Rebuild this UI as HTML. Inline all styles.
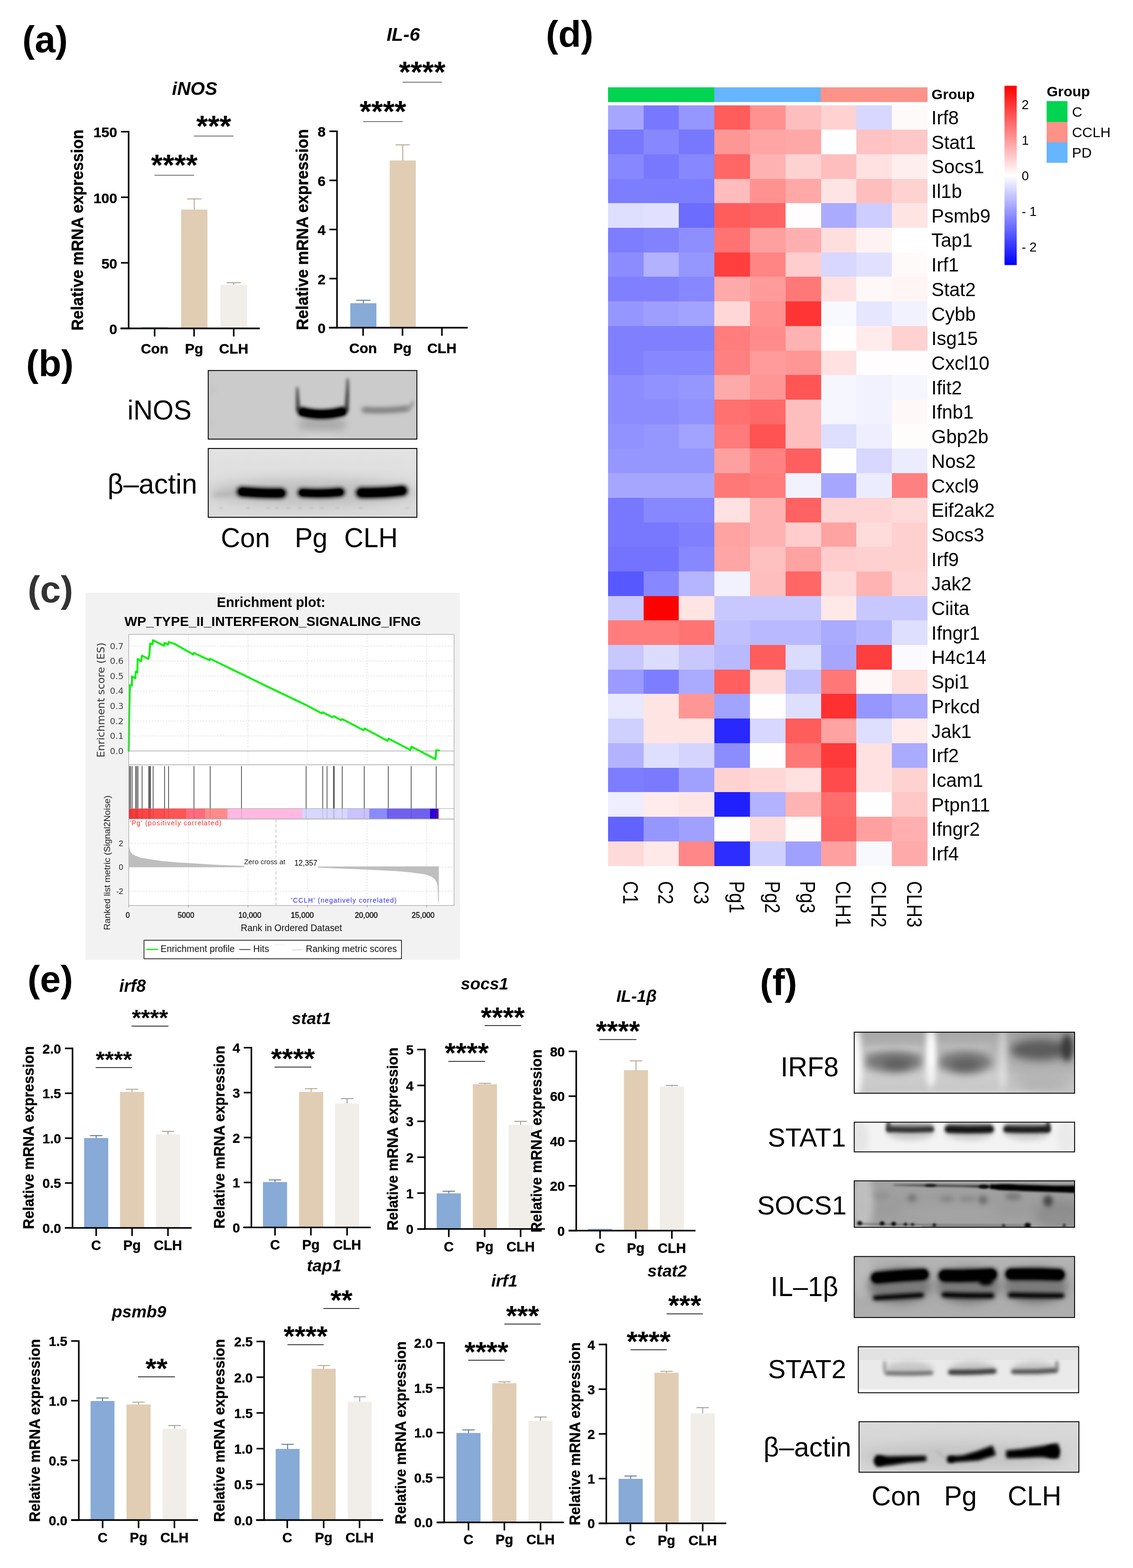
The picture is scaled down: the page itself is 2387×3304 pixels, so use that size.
<!DOCTYPE html>
<html lang="en">
<head>
<meta charset="utf-8">
<title>Figure: interferon signaling panels</title>
<style>
html,body{margin:0;padding:0;background:#fff;}
body{width:2387px;height:3304px;overflow:hidden;font-family:'Liberation Sans', Arial, Helvetica, sans-serif;}
svg{display:block;}
text{white-space:pre;}
</style>
</head>
<body>
<svg width="2387" height="3304" viewBox="0 0 2387 3304">
<rect x="0" y="0" width="2387" height="3304" fill="#ffffff"/>
<text x="47.00" y="110.00" font-family="'Liberation Sans', Arial, Helvetica, sans-serif" font-size="78.5" font-weight="bold" font-style="normal" text-anchor="start" fill="#000">(a)</text>
<text x="55.00" y="793.00" font-family="'Liberation Sans', Arial, Helvetica, sans-serif" font-size="78.5" font-weight="bold" font-style="normal" text-anchor="start" fill="#000">(b)</text>
<text x="58.30" y="1269.00" font-family="'Liberation Sans', Arial, Helvetica, sans-serif" font-size="78.5" font-weight="bold" font-style="normal" text-anchor="start" fill="#333">(c)</text>
<text x="1150.00" y="99.00" font-family="'Liberation Sans', Arial, Helvetica, sans-serif" font-size="78.5" font-weight="bold" font-style="normal" text-anchor="start" fill="#000">(d)</text>
<text x="58.00" y="2090.30" font-family="'Liberation Sans', Arial, Helvetica, sans-serif" font-size="78.5" font-weight="bold" font-style="normal" text-anchor="start" fill="#000">(e)</text>
<text x="1601.00" y="2097.00" font-family="'Liberation Sans', Arial, Helvetica, sans-serif" font-size="78.5" font-weight="bold" font-style="normal" text-anchor="start" fill="#000">(f)</text>
<g id="bar-charts">
<g transform="translate(0 0.2)">
<rect x="298.00" y="689.30" width="55.50" height="2.50" fill="#87AAD6" stroke="none" stroke-width="0"/>
<line x1="409.25" y1="442.40" x2="409.25" y2="419.00" stroke="#B5A38C" stroke-width="1.9"/>
<line x1="394.25" y1="419.00" x2="424.25" y2="419.00" stroke="#B5A38C" stroke-width="1.9"/>
<rect x="381.50" y="441.40" width="55.50" height="250.40" fill="#E0CDB4" stroke="none" stroke-width="0"/>
<line x1="492.35" y1="600.90" x2="492.35" y2="595.50" stroke="#9A9A9A" stroke-width="1.9"/>
<line x1="477.35" y1="595.50" x2="507.35" y2="595.50" stroke="#9A9A9A" stroke-width="1.9"/>
<rect x="464.50" y="599.90" width="55.70" height="91.90" fill="#F1EEE9" stroke="none" stroke-width="0"/>
<line x1="271.00" y1="275.65" x2="271.00" y2="693.45" stroke="#000" stroke-width="3.3"/>
<line x1="253.70" y1="691.80" x2="547.30" y2="691.80" stroke="#000" stroke-width="3.3"/>
<line x1="255.00" y1="691.80" x2="271.00" y2="691.80" stroke="#000" stroke-width="3.3"/>
<text x="247.00" y="703.65" font-family="'Liberation Sans', Arial, Helvetica, sans-serif" font-size="30" font-weight="bold" font-style="normal" text-anchor="end" fill="#000" stroke="#000" stroke-width="0.45" stroke-linejoin="round">0</text>
<line x1="255.00" y1="553.63" x2="271.00" y2="553.63" stroke="#000" stroke-width="3.3"/>
<text x="247.00" y="565.48" font-family="'Liberation Sans', Arial, Helvetica, sans-serif" font-size="30" font-weight="bold" font-style="normal" text-anchor="end" fill="#000" stroke="#000" stroke-width="0.45" stroke-linejoin="round">50</text>
<line x1="255.00" y1="415.47" x2="271.00" y2="415.47" stroke="#000" stroke-width="3.3"/>
<text x="247.00" y="427.32" font-family="'Liberation Sans', Arial, Helvetica, sans-serif" font-size="30" font-weight="bold" font-style="normal" text-anchor="end" fill="#000" stroke="#000" stroke-width="0.45" stroke-linejoin="round">100</text>
<line x1="255.00" y1="277.30" x2="271.00" y2="277.30" stroke="#000" stroke-width="3.3"/>
<text x="247.00" y="289.15" font-family="'Liberation Sans', Arial, Helvetica, sans-serif" font-size="30" font-weight="bold" font-style="normal" text-anchor="end" fill="#000" stroke="#000" stroke-width="0.45" stroke-linejoin="round">150</text>
<line x1="325.80" y1="691.80" x2="325.80" y2="708.80" stroke="#000" stroke-width="3.3"/>
<text x="325.80" y="744.80" font-family="'Liberation Sans', Arial, Helvetica, sans-serif" font-size="30" font-weight="bold" font-style="normal" text-anchor="middle" fill="#000" stroke="#000" stroke-width="0.45" stroke-linejoin="round">Con</text>
<line x1="408.90" y1="691.80" x2="408.90" y2="708.80" stroke="#000" stroke-width="3.3"/>
<text x="408.90" y="744.80" font-family="'Liberation Sans', Arial, Helvetica, sans-serif" font-size="30" font-weight="bold" font-style="normal" text-anchor="middle" fill="#000" stroke="#000" stroke-width="0.45" stroke-linejoin="round">Pg</text>
<line x1="492.40" y1="691.80" x2="492.40" y2="708.80" stroke="#000" stroke-width="3.3"/>
<text x="492.40" y="744.80" font-family="'Liberation Sans', Arial, Helvetica, sans-serif" font-size="30" font-weight="bold" font-style="normal" text-anchor="middle" fill="#000" stroke="#000" stroke-width="0.45" stroke-linejoin="round">CLH</text>
<text transform="translate(174.60 484.50) rotate(-90) scale(1 1.05)" font-family="'Liberation Sans', Arial, Helvetica, sans-serif" font-size="33.4" font-weight="bold" text-anchor="middle" fill="#000" stroke="#000" stroke-width="0.45" stroke-linejoin="round">Relative mRNA expression</text>
<text x="410.00" y="200.20" font-family="'Liberation Sans', Arial, Helvetica, sans-serif" font-size="39" font-weight="bold" font-style="italic" text-anchor="middle" fill="#000">iNOS</text>
<line x1="325.50" y1="369.00" x2="409.00" y2="369.00" stroke="#000" stroke-width="1.0"/>
<text x="367.25" y="369.30" font-family="'Liberation Sans', Arial, Helvetica, sans-serif" font-size="63" font-weight="bold" font-style="normal" text-anchor="middle" fill="#000">****</text>
<line x1="408.50" y1="286.50" x2="492.00" y2="286.50" stroke="#000" stroke-width="1.0"/>
<text x="450.25" y="286.80" font-family="'Liberation Sans', Arial, Helvetica, sans-serif" font-size="63" font-weight="bold" font-style="normal" text-anchor="middle" fill="#000">***</text>
</g>
<g transform="translate(0 0.2)">
<line x1="765.50" y1="639.70" x2="765.50" y2="632.50" stroke="#5E7390" stroke-width="1.9"/>
<line x1="750.50" y1="632.50" x2="780.50" y2="632.50" stroke="#5E7390" stroke-width="1.9"/>
<rect x="738.00" y="638.70" width="55.00" height="51.60" fill="#87AAD6" stroke="none" stroke-width="0"/>
<line x1="848.50" y1="339.00" x2="848.50" y2="305.00" stroke="#B5A38C" stroke-width="1.9"/>
<line x1="833.50" y1="305.00" x2="863.50" y2="305.00" stroke="#B5A38C" stroke-width="1.9"/>
<rect x="821.00" y="338.00" width="55.00" height="352.30" fill="#E0CDB4" stroke="none" stroke-width="0"/>
<line x1="710.00" y1="274.75" x2="710.00" y2="691.95" stroke="#000" stroke-width="3.3"/>
<line x1="693.00" y1="690.30" x2="985.40" y2="690.30" stroke="#000" stroke-width="3.3"/>
<line x1="694.00" y1="690.30" x2="710.00" y2="690.30" stroke="#000" stroke-width="3.3"/>
<text x="686.00" y="702.15" font-family="'Liberation Sans', Arial, Helvetica, sans-serif" font-size="30" font-weight="bold" font-style="normal" text-anchor="end" fill="#000" stroke="#000" stroke-width="0.45" stroke-linejoin="round">0</text>
<line x1="694.00" y1="586.82" x2="710.00" y2="586.82" stroke="#000" stroke-width="3.3"/>
<text x="686.00" y="598.67" font-family="'Liberation Sans', Arial, Helvetica, sans-serif" font-size="30" font-weight="bold" font-style="normal" text-anchor="end" fill="#000" stroke="#000" stroke-width="0.45" stroke-linejoin="round">2</text>
<line x1="694.00" y1="483.35" x2="710.00" y2="483.35" stroke="#000" stroke-width="3.3"/>
<text x="686.00" y="495.20" font-family="'Liberation Sans', Arial, Helvetica, sans-serif" font-size="30" font-weight="bold" font-style="normal" text-anchor="end" fill="#000" stroke="#000" stroke-width="0.45" stroke-linejoin="round">4</text>
<line x1="694.00" y1="379.88" x2="710.00" y2="379.88" stroke="#000" stroke-width="3.3"/>
<text x="686.00" y="391.72" font-family="'Liberation Sans', Arial, Helvetica, sans-serif" font-size="30" font-weight="bold" font-style="normal" text-anchor="end" fill="#000" stroke="#000" stroke-width="0.45" stroke-linejoin="round">6</text>
<line x1="694.00" y1="276.40" x2="710.00" y2="276.40" stroke="#000" stroke-width="3.3"/>
<text x="686.00" y="288.25" font-family="'Liberation Sans', Arial, Helvetica, sans-serif" font-size="30" font-weight="bold" font-style="normal" text-anchor="end" fill="#000" stroke="#000" stroke-width="0.45" stroke-linejoin="round">8</text>
<line x1="765.00" y1="690.30" x2="765.00" y2="707.30" stroke="#000" stroke-width="3.3"/>
<text x="765.00" y="743.50" font-family="'Liberation Sans', Arial, Helvetica, sans-serif" font-size="30" font-weight="bold" font-style="normal" text-anchor="middle" fill="#000" stroke="#000" stroke-width="0.45" stroke-linejoin="round">Con</text>
<line x1="848.00" y1="690.30" x2="848.00" y2="707.30" stroke="#000" stroke-width="3.3"/>
<text x="848.00" y="743.50" font-family="'Liberation Sans', Arial, Helvetica, sans-serif" font-size="30" font-weight="bold" font-style="normal" text-anchor="middle" fill="#000" stroke="#000" stroke-width="0.45" stroke-linejoin="round">Pg</text>
<line x1="931.00" y1="690.30" x2="931.00" y2="707.30" stroke="#000" stroke-width="3.3"/>
<text x="931.00" y="743.50" font-family="'Liberation Sans', Arial, Helvetica, sans-serif" font-size="30" font-weight="bold" font-style="normal" text-anchor="middle" fill="#000" stroke="#000" stroke-width="0.45" stroke-linejoin="round">CLH</text>
<text transform="translate(648.60 483.50) rotate(-90) scale(1 1.05)" font-family="'Liberation Sans', Arial, Helvetica, sans-serif" font-size="33.4" font-weight="bold" text-anchor="middle" fill="#000" stroke="#000" stroke-width="0.45" stroke-linejoin="round">Relative mRNA expression</text>
<text x="849.50" y="86.20" font-family="'Liberation Sans', Arial, Helvetica, sans-serif" font-size="39.5" font-weight="bold" font-style="italic" text-anchor="middle" fill="#000">IL-6</text>
<line x1="765.00" y1="256.00" x2="848.50" y2="256.00" stroke="#000" stroke-width="1.0"/>
<text x="806.75" y="256.30" font-family="'Liberation Sans', Arial, Helvetica, sans-serif" font-size="63" font-weight="bold" font-style="normal" text-anchor="middle" fill="#000">****</text>
<line x1="848.00" y1="173.00" x2="931.00" y2="173.00" stroke="#000" stroke-width="1.0"/>
<text x="889.50" y="173.30" font-family="'Liberation Sans', Arial, Helvetica, sans-serif" font-size="63" font-weight="bold" font-style="normal" text-anchor="middle" fill="#000">****</text>
</g>
<g transform="translate(0 0.2)">
<line x1="202.60" y1="2398.80" x2="202.60" y2="2392.80" stroke="#5E7390" stroke-width="1.9"/>
<line x1="189.60" y1="2392.80" x2="215.60" y2="2392.80" stroke="#5E7390" stroke-width="1.9"/>
<rect x="177.20" y="2397.80" width="50.80" height="189.40" fill="#87AAD6" stroke="none" stroke-width="0"/>
<line x1="278.20" y1="2301.60" x2="278.20" y2="2295.00" stroke="#B5A38C" stroke-width="1.9"/>
<line x1="265.20" y1="2295.00" x2="291.20" y2="2295.00" stroke="#B5A38C" stroke-width="1.9"/>
<rect x="252.80" y="2300.60" width="50.80" height="286.60" fill="#E0CDB4" stroke="none" stroke-width="0"/>
<line x1="353.90" y1="2391.00" x2="353.90" y2="2383.80" stroke="#9A9A9A" stroke-width="1.9"/>
<line x1="340.90" y1="2383.80" x2="366.90" y2="2383.80" stroke="#9A9A9A" stroke-width="1.9"/>
<rect x="328.50" y="2390.00" width="50.80" height="197.20" fill="#F1EEE9" stroke="none" stroke-width="0"/>
<line x1="152.80" y1="2207.25" x2="152.80" y2="2588.85" stroke="#000" stroke-width="3.3"/>
<line x1="136.70" y1="2587.20" x2="403.70" y2="2587.20" stroke="#000" stroke-width="3.3"/>
<line x1="136.80" y1="2587.20" x2="152.80" y2="2587.20" stroke="#000" stroke-width="3.3"/>
<text x="128.80" y="2597.81" font-family="'Liberation Sans', Arial, Helvetica, sans-serif" font-size="28.2" font-weight="bold" font-style="normal" text-anchor="end" fill="#000" stroke="#000" stroke-width="0.45" stroke-linejoin="round">0.0</text>
<line x1="136.80" y1="2492.62" x2="152.80" y2="2492.62" stroke="#000" stroke-width="3.3"/>
<text x="128.80" y="2503.24" font-family="'Liberation Sans', Arial, Helvetica, sans-serif" font-size="28.2" font-weight="bold" font-style="normal" text-anchor="end" fill="#000" stroke="#000" stroke-width="0.45" stroke-linejoin="round">0.5</text>
<line x1="136.80" y1="2398.05" x2="152.80" y2="2398.05" stroke="#000" stroke-width="3.3"/>
<text x="128.80" y="2408.66" font-family="'Liberation Sans', Arial, Helvetica, sans-serif" font-size="28.2" font-weight="bold" font-style="normal" text-anchor="end" fill="#000" stroke="#000" stroke-width="0.45" stroke-linejoin="round">1.0</text>
<line x1="136.80" y1="2303.47" x2="152.80" y2="2303.47" stroke="#000" stroke-width="3.3"/>
<text x="128.80" y="2314.09" font-family="'Liberation Sans', Arial, Helvetica, sans-serif" font-size="28.2" font-weight="bold" font-style="normal" text-anchor="end" fill="#000" stroke="#000" stroke-width="0.45" stroke-linejoin="round">1.5</text>
<line x1="136.80" y1="2208.90" x2="152.80" y2="2208.90" stroke="#000" stroke-width="3.3"/>
<text x="128.80" y="2219.51" font-family="'Liberation Sans', Arial, Helvetica, sans-serif" font-size="28.2" font-weight="bold" font-style="normal" text-anchor="end" fill="#000" stroke="#000" stroke-width="0.45" stroke-linejoin="round">2.0</text>
<line x1="202.60" y1="2587.20" x2="202.60" y2="2604.20" stroke="#000" stroke-width="3.3"/>
<text x="202.60" y="2634.00" font-family="'Liberation Sans', Arial, Helvetica, sans-serif" font-size="29" font-weight="bold" font-style="normal" text-anchor="middle" fill="#000" stroke="#000" stroke-width="0.45" stroke-linejoin="round">C</text>
<line x1="278.20" y1="2587.20" x2="278.20" y2="2604.20" stroke="#000" stroke-width="3.3"/>
<text x="278.20" y="2634.00" font-family="'Liberation Sans', Arial, Helvetica, sans-serif" font-size="29" font-weight="bold" font-style="normal" text-anchor="middle" fill="#000" stroke="#000" stroke-width="0.45" stroke-linejoin="round">Pg</text>
<line x1="353.90" y1="2587.20" x2="353.90" y2="2604.20" stroke="#000" stroke-width="3.3"/>
<text x="353.90" y="2634.00" font-family="'Liberation Sans', Arial, Helvetica, sans-serif" font-size="29" font-weight="bold" font-style="normal" text-anchor="middle" fill="#000" stroke="#000" stroke-width="0.45" stroke-linejoin="round">CLH</text>
<text transform="translate(71.30 2397.00) rotate(-90) scale(1 1.05)" font-family="'Liberation Sans', Arial, Helvetica, sans-serif" font-size="30.4" font-weight="bold" text-anchor="middle" fill="#000" stroke="#000" stroke-width="0.45" stroke-linejoin="round">Relative mRNA expression</text>
<text x="279.30" y="2089.50" font-family="'Liberation Sans', Arial, Helvetica, sans-serif" font-size="36" font-weight="bold" font-style="italic" text-anchor="middle" fill="#000">irf8</text>
<line x1="201.60" y1="2249.40" x2="278.20" y2="2249.40" stroke="#000" stroke-width="1.5"/>
<text x="239.90" y="2248.40" font-family="'Liberation Sans', Arial, Helvetica, sans-serif" font-size="49" font-weight="bold" font-style="normal" text-anchor="middle" fill="#000">****</text>
<line x1="277.20" y1="2162.00" x2="354.90" y2="2162.00" stroke="#000" stroke-width="1.5"/>
<text x="316.05" y="2161.00" font-family="'Liberation Sans', Arial, Helvetica, sans-serif" font-size="49" font-weight="bold" font-style="normal" text-anchor="middle" fill="#000">****</text>
</g>
<g transform="translate(0 1.1)">
<line x1="579.40" y1="2490.60" x2="579.40" y2="2485.20" stroke="#5E7390" stroke-width="1.9"/>
<line x1="566.40" y1="2485.20" x2="592.40" y2="2485.20" stroke="#5E7390" stroke-width="1.9"/>
<rect x="554.00" y="2489.60" width="50.80" height="95.60" fill="#87AAD6" stroke="none" stroke-width="0"/>
<line x1="655.50" y1="2300.70" x2="655.50" y2="2292.90" stroke="#B5A38C" stroke-width="1.9"/>
<line x1="642.50" y1="2292.90" x2="668.50" y2="2292.90" stroke="#B5A38C" stroke-width="1.9"/>
<rect x="630.10" y="2299.70" width="50.80" height="285.50" fill="#E0CDB4" stroke="none" stroke-width="0"/>
<line x1="731.20" y1="2325.10" x2="731.20" y2="2313.80" stroke="#9A9A9A" stroke-width="1.9"/>
<line x1="718.20" y1="2313.80" x2="744.20" y2="2313.80" stroke="#9A9A9A" stroke-width="1.9"/>
<rect x="705.80" y="2324.10" width="50.80" height="261.10" fill="#F1EEE9" stroke="none" stroke-width="0"/>
<line x1="529.60" y1="2204.85" x2="529.60" y2="2586.85" stroke="#000" stroke-width="3.3"/>
<line x1="512.50" y1="2585.20" x2="781.00" y2="2585.20" stroke="#000" stroke-width="3.3"/>
<line x1="513.60" y1="2585.20" x2="529.60" y2="2585.20" stroke="#000" stroke-width="3.3"/>
<text x="505.60" y="2595.81" font-family="'Liberation Sans', Arial, Helvetica, sans-serif" font-size="28.2" font-weight="bold" font-style="normal" text-anchor="end" fill="#000" stroke="#000" stroke-width="0.45" stroke-linejoin="round">0</text>
<line x1="513.60" y1="2490.52" x2="529.60" y2="2490.52" stroke="#000" stroke-width="3.3"/>
<text x="505.60" y="2501.14" font-family="'Liberation Sans', Arial, Helvetica, sans-serif" font-size="28.2" font-weight="bold" font-style="normal" text-anchor="end" fill="#000" stroke="#000" stroke-width="0.45" stroke-linejoin="round">1</text>
<line x1="513.60" y1="2395.85" x2="529.60" y2="2395.85" stroke="#000" stroke-width="3.3"/>
<text x="505.60" y="2406.46" font-family="'Liberation Sans', Arial, Helvetica, sans-serif" font-size="28.2" font-weight="bold" font-style="normal" text-anchor="end" fill="#000" stroke="#000" stroke-width="0.45" stroke-linejoin="round">2</text>
<line x1="513.60" y1="2301.18" x2="529.60" y2="2301.18" stroke="#000" stroke-width="3.3"/>
<text x="505.60" y="2311.79" font-family="'Liberation Sans', Arial, Helvetica, sans-serif" font-size="28.2" font-weight="bold" font-style="normal" text-anchor="end" fill="#000" stroke="#000" stroke-width="0.45" stroke-linejoin="round">3</text>
<line x1="513.60" y1="2206.50" x2="529.60" y2="2206.50" stroke="#000" stroke-width="3.3"/>
<text x="505.60" y="2217.11" font-family="'Liberation Sans', Arial, Helvetica, sans-serif" font-size="28.2" font-weight="bold" font-style="normal" text-anchor="end" fill="#000" stroke="#000" stroke-width="0.45" stroke-linejoin="round">4</text>
<line x1="579.40" y1="2585.20" x2="579.40" y2="2602.20" stroke="#000" stroke-width="3.3"/>
<text x="579.40" y="2631.60" font-family="'Liberation Sans', Arial, Helvetica, sans-serif" font-size="29" font-weight="bold" font-style="normal" text-anchor="middle" fill="#000" stroke="#000" stroke-width="0.45" stroke-linejoin="round">C</text>
<line x1="655.00" y1="2585.20" x2="655.00" y2="2602.20" stroke="#000" stroke-width="3.3"/>
<text x="655.00" y="2631.60" font-family="'Liberation Sans', Arial, Helvetica, sans-serif" font-size="29" font-weight="bold" font-style="normal" text-anchor="middle" fill="#000" stroke="#000" stroke-width="0.45" stroke-linejoin="round">Pg</text>
<line x1="731.20" y1="2585.20" x2="731.20" y2="2602.20" stroke="#000" stroke-width="3.3"/>
<text x="731.20" y="2631.60" font-family="'Liberation Sans', Arial, Helvetica, sans-serif" font-size="29" font-weight="bold" font-style="normal" text-anchor="middle" fill="#000" stroke="#000" stroke-width="0.45" stroke-linejoin="round">CLH</text>
<text transform="translate(473.00 2395.00) rotate(-90) scale(1 1.05)" font-family="'Liberation Sans', Arial, Helvetica, sans-serif" font-size="30.4" font-weight="bold" text-anchor="middle" fill="#000" stroke="#000" stroke-width="0.45" stroke-linejoin="round">Relative mRNA expression</text>
<text x="656.00" y="2156.70" font-family="'Liberation Sans', Arial, Helvetica, sans-serif" font-size="35.5" font-weight="bold" font-style="italic" text-anchor="middle" fill="#000">stat1</text>
<line x1="578.40" y1="2247.50" x2="656.00" y2="2247.50" stroke="#000" stroke-width="1.5"/>
<text x="617.20" y="2250.20" font-family="'Liberation Sans', Arial, Helvetica, sans-serif" font-size="59.5" font-weight="bold" font-style="normal" text-anchor="middle" fill="#000">****</text>
</g>
<g transform="translate(0 1.1)">
<line x1="945.45" y1="2514.50" x2="945.45" y2="2509.00" stroke="#5E7390" stroke-width="1.9"/>
<line x1="932.45" y1="2509.00" x2="958.45" y2="2509.00" stroke="#5E7390" stroke-width="1.9"/>
<rect x="920.00" y="2513.50" width="50.90" height="75.10" fill="#87AAD6" stroke="none" stroke-width="0"/>
<line x1="1021.60" y1="2284.60" x2="1021.60" y2="2281.60" stroke="#B5A38C" stroke-width="1.9"/>
<line x1="1008.60" y1="2281.60" x2="1034.60" y2="2281.60" stroke="#B5A38C" stroke-width="1.9"/>
<rect x="996.20" y="2283.60" width="50.80" height="305.00" fill="#E0CDB4" stroke="none" stroke-width="0"/>
<line x1="1096.80" y1="2370.00" x2="1096.80" y2="2361.70" stroke="#9A9A9A" stroke-width="1.9"/>
<line x1="1083.80" y1="2361.70" x2="1109.80" y2="2361.70" stroke="#9A9A9A" stroke-width="1.9"/>
<rect x="1071.40" y="2369.00" width="50.80" height="219.60" fill="#F1EEE9" stroke="none" stroke-width="0"/>
<line x1="895.20" y1="2208.75" x2="895.20" y2="2590.25" stroke="#000" stroke-width="3.3"/>
<line x1="879.60" y1="2588.60" x2="1148.00" y2="2588.60" stroke="#000" stroke-width="3.3"/>
<line x1="879.20" y1="2588.60" x2="895.20" y2="2588.60" stroke="#000" stroke-width="3.3"/>
<text x="871.20" y="2599.21" font-family="'Liberation Sans', Arial, Helvetica, sans-serif" font-size="28.2" font-weight="bold" font-style="normal" text-anchor="end" fill="#000" stroke="#000" stroke-width="0.45" stroke-linejoin="round">0</text>
<line x1="879.20" y1="2512.96" x2="895.20" y2="2512.96" stroke="#000" stroke-width="3.3"/>
<text x="871.20" y="2523.57" font-family="'Liberation Sans', Arial, Helvetica, sans-serif" font-size="28.2" font-weight="bold" font-style="normal" text-anchor="end" fill="#000" stroke="#000" stroke-width="0.45" stroke-linejoin="round">1</text>
<line x1="879.20" y1="2437.32" x2="895.20" y2="2437.32" stroke="#000" stroke-width="3.3"/>
<text x="871.20" y="2447.93" font-family="'Liberation Sans', Arial, Helvetica, sans-serif" font-size="28.2" font-weight="bold" font-style="normal" text-anchor="end" fill="#000" stroke="#000" stroke-width="0.45" stroke-linejoin="round">2</text>
<line x1="879.20" y1="2361.68" x2="895.20" y2="2361.68" stroke="#000" stroke-width="3.3"/>
<text x="871.20" y="2372.29" font-family="'Liberation Sans', Arial, Helvetica, sans-serif" font-size="28.2" font-weight="bold" font-style="normal" text-anchor="end" fill="#000" stroke="#000" stroke-width="0.45" stroke-linejoin="round">3</text>
<line x1="879.20" y1="2286.04" x2="895.20" y2="2286.04" stroke="#000" stroke-width="3.3"/>
<text x="871.20" y="2296.65" font-family="'Liberation Sans', Arial, Helvetica, sans-serif" font-size="28.2" font-weight="bold" font-style="normal" text-anchor="end" fill="#000" stroke="#000" stroke-width="0.45" stroke-linejoin="round">4</text>
<line x1="879.20" y1="2210.40" x2="895.20" y2="2210.40" stroke="#000" stroke-width="3.3"/>
<text x="871.20" y="2221.01" font-family="'Liberation Sans', Arial, Helvetica, sans-serif" font-size="28.2" font-weight="bold" font-style="normal" text-anchor="end" fill="#000" stroke="#000" stroke-width="0.45" stroke-linejoin="round">5</text>
<line x1="945.50" y1="2588.60" x2="945.50" y2="2605.60" stroke="#000" stroke-width="3.3"/>
<text x="945.50" y="2636.00" font-family="'Liberation Sans', Arial, Helvetica, sans-serif" font-size="29" font-weight="bold" font-style="normal" text-anchor="middle" fill="#000" stroke="#000" stroke-width="0.45" stroke-linejoin="round">C</text>
<line x1="1021.10" y1="2588.60" x2="1021.10" y2="2605.60" stroke="#000" stroke-width="3.3"/>
<text x="1021.10" y="2636.00" font-family="'Liberation Sans', Arial, Helvetica, sans-serif" font-size="29" font-weight="bold" font-style="normal" text-anchor="middle" fill="#000" stroke="#000" stroke-width="0.45" stroke-linejoin="round">Pg</text>
<line x1="1096.80" y1="2588.60" x2="1096.80" y2="2605.60" stroke="#000" stroke-width="3.3"/>
<text x="1096.80" y="2636.00" font-family="'Liberation Sans', Arial, Helvetica, sans-serif" font-size="29" font-weight="bold" font-style="normal" text-anchor="middle" fill="#000" stroke="#000" stroke-width="0.45" stroke-linejoin="round">CLH</text>
<text transform="translate(838.00 2399.00) rotate(-90) scale(1 1.05)" font-family="'Liberation Sans', Arial, Helvetica, sans-serif" font-size="30.4" font-weight="bold" text-anchor="middle" fill="#000" stroke="#000" stroke-width="0.45" stroke-linejoin="round">Relative mRNA expression</text>
<text x="1021.00" y="2083.50" font-family="'Liberation Sans', Arial, Helvetica, sans-serif" font-size="35.5" font-weight="bold" font-style="italic" text-anchor="middle" fill="#000">socs1</text>
<line x1="944.50" y1="2235.30" x2="1022.00" y2="2235.30" stroke="#000" stroke-width="1.5"/>
<text x="983.25" y="2238.00" font-family="'Liberation Sans', Arial, Helvetica, sans-serif" font-size="59.5" font-weight="bold" font-style="normal" text-anchor="middle" fill="#000">****</text>
<line x1="1021.00" y1="2160.00" x2="1097.80" y2="2160.00" stroke="#000" stroke-width="1.5"/>
<text x="1059.40" y="2162.70" font-family="'Liberation Sans', Arial, Helvetica, sans-serif" font-size="59.5" font-weight="bold" font-style="normal" text-anchor="middle" fill="#000">****</text>
</g>
<g transform="translate(0 1.1)">
<rect x="1238.80" y="2588.20" width="50.80" height="3.80" fill="#87AAD6" stroke="none" stroke-width="0"/>
<line x1="1339.90" y1="2254.80" x2="1339.90" y2="2234.30" stroke="#B5A38C" stroke-width="1.9"/>
<line x1="1326.90" y1="2234.30" x2="1352.90" y2="2234.30" stroke="#B5A38C" stroke-width="1.9"/>
<rect x="1314.50" y="2253.80" width="50.80" height="338.20" fill="#E0CDB4" stroke="none" stroke-width="0"/>
<line x1="1415.50" y1="2289.50" x2="1415.50" y2="2286.00" stroke="#9A9A9A" stroke-width="1.9"/>
<line x1="1402.50" y1="2286.00" x2="1428.50" y2="2286.00" stroke="#9A9A9A" stroke-width="1.9"/>
<rect x="1390.10" y="2288.50" width="50.80" height="303.50" fill="#F1EEE9" stroke="none" stroke-width="0"/>
<line x1="1214.00" y1="2212.65" x2="1214.00" y2="2593.65" stroke="#000" stroke-width="3.3"/>
<line x1="1197.80" y1="2592.00" x2="1465.30" y2="2592.00" stroke="#000" stroke-width="3.3"/>
<line x1="1198.00" y1="2592.00" x2="1214.00" y2="2592.00" stroke="#000" stroke-width="3.3"/>
<text x="1190.00" y="2602.61" font-family="'Liberation Sans', Arial, Helvetica, sans-serif" font-size="28.2" font-weight="bold" font-style="normal" text-anchor="end" fill="#000" stroke="#000" stroke-width="0.45" stroke-linejoin="round">0</text>
<line x1="1198.00" y1="2497.57" x2="1214.00" y2="2497.57" stroke="#000" stroke-width="3.3"/>
<text x="1190.00" y="2508.19" font-family="'Liberation Sans', Arial, Helvetica, sans-serif" font-size="28.2" font-weight="bold" font-style="normal" text-anchor="end" fill="#000" stroke="#000" stroke-width="0.45" stroke-linejoin="round">20</text>
<line x1="1198.00" y1="2403.15" x2="1214.00" y2="2403.15" stroke="#000" stroke-width="3.3"/>
<text x="1190.00" y="2413.76" font-family="'Liberation Sans', Arial, Helvetica, sans-serif" font-size="28.2" font-weight="bold" font-style="normal" text-anchor="end" fill="#000" stroke="#000" stroke-width="0.45" stroke-linejoin="round">40</text>
<line x1="1198.00" y1="2308.73" x2="1214.00" y2="2308.73" stroke="#000" stroke-width="3.3"/>
<text x="1190.00" y="2319.34" font-family="'Liberation Sans', Arial, Helvetica, sans-serif" font-size="28.2" font-weight="bold" font-style="normal" text-anchor="end" fill="#000" stroke="#000" stroke-width="0.45" stroke-linejoin="round">60</text>
<line x1="1198.00" y1="2214.30" x2="1214.00" y2="2214.30" stroke="#000" stroke-width="3.3"/>
<text x="1190.00" y="2224.91" font-family="'Liberation Sans', Arial, Helvetica, sans-serif" font-size="28.2" font-weight="bold" font-style="normal" text-anchor="end" fill="#000" stroke="#000" stroke-width="0.45" stroke-linejoin="round">80</text>
<line x1="1264.20" y1="2592.00" x2="1264.20" y2="2609.00" stroke="#000" stroke-width="3.3"/>
<text x="1264.20" y="2639.00" font-family="'Liberation Sans', Arial, Helvetica, sans-serif" font-size="29" font-weight="bold" font-style="normal" text-anchor="middle" fill="#000" stroke="#000" stroke-width="0.45" stroke-linejoin="round">C</text>
<line x1="1339.40" y1="2592.00" x2="1339.40" y2="2609.00" stroke="#000" stroke-width="3.3"/>
<text x="1339.40" y="2639.00" font-family="'Liberation Sans', Arial, Helvetica, sans-serif" font-size="29" font-weight="bold" font-style="normal" text-anchor="middle" fill="#000" stroke="#000" stroke-width="0.45" stroke-linejoin="round">Pg</text>
<line x1="1415.50" y1="2592.00" x2="1415.50" y2="2609.00" stroke="#000" stroke-width="3.3"/>
<text x="1415.50" y="2639.00" font-family="'Liberation Sans', Arial, Helvetica, sans-serif" font-size="29" font-weight="bold" font-style="normal" text-anchor="middle" fill="#000" stroke="#000" stroke-width="0.45" stroke-linejoin="round">CLH</text>
<text transform="translate(1141.30 2403.00) rotate(-90) scale(1 1.05)" font-family="'Liberation Sans', Arial, Helvetica, sans-serif" font-size="30.4" font-weight="bold" text-anchor="middle" fill="#000" stroke="#000" stroke-width="0.45" stroke-linejoin="round">Relative mRNA expression</text>
<text x="1341.00" y="2110.30" font-family="'Liberation Sans', Arial, Helvetica, sans-serif" font-size="35.5" font-weight="bold" font-style="italic" text-anchor="middle" fill="#000">IL-1β</text>
<line x1="1262.70" y1="2189.40" x2="1340.80" y2="2189.40" stroke="#000" stroke-width="1.5"/>
<text x="1301.75" y="2192.10" font-family="'Liberation Sans', Arial, Helvetica, sans-serif" font-size="59.5" font-weight="bold" font-style="normal" text-anchor="middle" fill="#000">****</text>
</g>
<g transform="translate(0 0.2)">
<line x1="215.95" y1="2952.90" x2="215.95" y2="2945.50" stroke="#5E7390" stroke-width="1.9"/>
<line x1="202.95" y1="2945.50" x2="228.95" y2="2945.50" stroke="#5E7390" stroke-width="1.9"/>
<rect x="190.80" y="2951.90" width="50.30" height="250.90" fill="#87AAD6" stroke="none" stroke-width="0"/>
<line x1="291.90" y1="2960.20" x2="291.90" y2="2954.30" stroke="#B5A38C" stroke-width="1.9"/>
<line x1="278.90" y1="2954.30" x2="304.90" y2="2954.30" stroke="#B5A38C" stroke-width="1.9"/>
<rect x="266.50" y="2959.20" width="50.80" height="243.60" fill="#E0CDB4" stroke="none" stroke-width="0"/>
<line x1="367.75" y1="3011.50" x2="367.75" y2="3003.60" stroke="#9A9A9A" stroke-width="1.9"/>
<line x1="354.75" y1="3003.60" x2="380.75" y2="3003.60" stroke="#9A9A9A" stroke-width="1.9"/>
<rect x="342.60" y="3010.50" width="50.30" height="192.30" fill="#F1EEE9" stroke="none" stroke-width="0"/>
<line x1="166.00" y1="2823.85" x2="166.00" y2="3204.45" stroke="#000" stroke-width="3.3"/>
<line x1="149.80" y1="3202.80" x2="417.30" y2="3202.80" stroke="#000" stroke-width="3.3"/>
<line x1="150.00" y1="3202.80" x2="166.00" y2="3202.80" stroke="#000" stroke-width="3.3"/>
<text x="142.00" y="3213.41" font-family="'Liberation Sans', Arial, Helvetica, sans-serif" font-size="28.2" font-weight="bold" font-style="normal" text-anchor="end" fill="#000" stroke="#000" stroke-width="0.45" stroke-linejoin="round">0.0</text>
<line x1="150.00" y1="3077.03" x2="166.00" y2="3077.03" stroke="#000" stroke-width="3.3"/>
<text x="142.00" y="3087.64" font-family="'Liberation Sans', Arial, Helvetica, sans-serif" font-size="28.2" font-weight="bold" font-style="normal" text-anchor="end" fill="#000" stroke="#000" stroke-width="0.45" stroke-linejoin="round">0.5</text>
<line x1="150.00" y1="2951.27" x2="166.00" y2="2951.27" stroke="#000" stroke-width="3.3"/>
<text x="142.00" y="2961.88" font-family="'Liberation Sans', Arial, Helvetica, sans-serif" font-size="28.2" font-weight="bold" font-style="normal" text-anchor="end" fill="#000" stroke="#000" stroke-width="0.45" stroke-linejoin="round">1.0</text>
<line x1="150.00" y1="2825.50" x2="166.00" y2="2825.50" stroke="#000" stroke-width="3.3"/>
<text x="142.00" y="2836.11" font-family="'Liberation Sans', Arial, Helvetica, sans-serif" font-size="28.2" font-weight="bold" font-style="normal" text-anchor="end" fill="#000" stroke="#000" stroke-width="0.45" stroke-linejoin="round">1.5</text>
<line x1="216.20" y1="3202.80" x2="216.20" y2="3219.80" stroke="#000" stroke-width="3.3"/>
<text x="216.20" y="3250.10" font-family="'Liberation Sans', Arial, Helvetica, sans-serif" font-size="29" font-weight="bold" font-style="normal" text-anchor="middle" fill="#000" stroke="#000" stroke-width="0.45" stroke-linejoin="round">C</text>
<line x1="291.90" y1="3202.80" x2="291.90" y2="3219.80" stroke="#000" stroke-width="3.3"/>
<text x="291.90" y="3250.10" font-family="'Liberation Sans', Arial, Helvetica, sans-serif" font-size="29" font-weight="bold" font-style="normal" text-anchor="middle" fill="#000" stroke="#000" stroke-width="0.45" stroke-linejoin="round">Pg</text>
<line x1="367.50" y1="3202.80" x2="367.50" y2="3219.80" stroke="#000" stroke-width="3.3"/>
<text x="367.50" y="3250.10" font-family="'Liberation Sans', Arial, Helvetica, sans-serif" font-size="29" font-weight="bold" font-style="normal" text-anchor="middle" fill="#000" stroke="#000" stroke-width="0.45" stroke-linejoin="round">CLH</text>
<text transform="translate(84.00 3014.00) rotate(-90) scale(1 1.05)" font-family="'Liberation Sans', Arial, Helvetica, sans-serif" font-size="30.4" font-weight="bold" text-anchor="middle" fill="#000" stroke="#000" stroke-width="0.45" stroke-linejoin="round">Relative mRNA expression</text>
<text x="293.00" y="2775.70" font-family="'Liberation Sans', Arial, Helvetica, sans-serif" font-size="35.5" font-weight="bold" font-style="italic" text-anchor="middle" fill="#000">psmb9</text>
<line x1="290.90" y1="2901.10" x2="368.50" y2="2901.10" stroke="#000" stroke-width="1.5"/>
<text x="329.70" y="2903.80" font-family="'Liberation Sans', Arial, Helvetica, sans-serif" font-size="59.5" font-weight="bold" font-style="normal" text-anchor="middle" fill="#000">**</text>
</g>
<g transform="translate(0 0.2)">
<line x1="605.95" y1="3053.90" x2="605.95" y2="3043.20" stroke="#5E7390" stroke-width="1.9"/>
<line x1="592.95" y1="3043.20" x2="618.95" y2="3043.20" stroke="#5E7390" stroke-width="1.9"/>
<rect x="580.80" y="3052.90" width="50.30" height="149.90" fill="#87AAD6" stroke="none" stroke-width="0"/>
<line x1="681.90" y1="2885.00" x2="681.90" y2="2877.20" stroke="#B5A38C" stroke-width="1.9"/>
<line x1="668.90" y1="2877.20" x2="694.90" y2="2877.20" stroke="#B5A38C" stroke-width="1.9"/>
<rect x="656.50" y="2884.00" width="50.80" height="318.80" fill="#E0CDB4" stroke="none" stroke-width="0"/>
<line x1="757.75" y1="2954.40" x2="757.75" y2="2943.10" stroke="#9A9A9A" stroke-width="1.9"/>
<line x1="744.75" y1="2943.10" x2="770.75" y2="2943.10" stroke="#9A9A9A" stroke-width="1.9"/>
<rect x="732.60" y="2953.40" width="50.30" height="249.40" fill="#F1EEE9" stroke="none" stroke-width="0"/>
<line x1="556.40" y1="2824.85" x2="556.40" y2="3204.45" stroke="#000" stroke-width="3.3"/>
<line x1="539.40" y1="3202.80" x2="807.30" y2="3202.80" stroke="#000" stroke-width="3.3"/>
<line x1="540.40" y1="3202.80" x2="556.40" y2="3202.80" stroke="#000" stroke-width="3.3"/>
<text x="532.40" y="3213.41" font-family="'Liberation Sans', Arial, Helvetica, sans-serif" font-size="28.2" font-weight="bold" font-style="normal" text-anchor="end" fill="#000" stroke="#000" stroke-width="0.45" stroke-linejoin="round">0.0</text>
<line x1="540.40" y1="3127.54" x2="556.40" y2="3127.54" stroke="#000" stroke-width="3.3"/>
<text x="532.40" y="3138.15" font-family="'Liberation Sans', Arial, Helvetica, sans-serif" font-size="28.2" font-weight="bold" font-style="normal" text-anchor="end" fill="#000" stroke="#000" stroke-width="0.45" stroke-linejoin="round">0.5</text>
<line x1="540.40" y1="3052.28" x2="556.40" y2="3052.28" stroke="#000" stroke-width="3.3"/>
<text x="532.40" y="3062.89" font-family="'Liberation Sans', Arial, Helvetica, sans-serif" font-size="28.2" font-weight="bold" font-style="normal" text-anchor="end" fill="#000" stroke="#000" stroke-width="0.45" stroke-linejoin="round">1.0</text>
<line x1="540.40" y1="2977.02" x2="556.40" y2="2977.02" stroke="#000" stroke-width="3.3"/>
<text x="532.40" y="2987.63" font-family="'Liberation Sans', Arial, Helvetica, sans-serif" font-size="28.2" font-weight="bold" font-style="normal" text-anchor="end" fill="#000" stroke="#000" stroke-width="0.45" stroke-linejoin="round">1.5</text>
<line x1="540.40" y1="2901.76" x2="556.40" y2="2901.76" stroke="#000" stroke-width="3.3"/>
<text x="532.40" y="2912.37" font-family="'Liberation Sans', Arial, Helvetica, sans-serif" font-size="28.2" font-weight="bold" font-style="normal" text-anchor="end" fill="#000" stroke="#000" stroke-width="0.45" stroke-linejoin="round">2.0</text>
<line x1="540.40" y1="2826.50" x2="556.40" y2="2826.50" stroke="#000" stroke-width="3.3"/>
<text x="532.40" y="2837.11" font-family="'Liberation Sans', Arial, Helvetica, sans-serif" font-size="28.2" font-weight="bold" font-style="normal" text-anchor="end" fill="#000" stroke="#000" stroke-width="0.45" stroke-linejoin="round">2.5</text>
<line x1="605.20" y1="3202.80" x2="605.20" y2="3219.80" stroke="#000" stroke-width="3.3"/>
<text x="605.20" y="3250.10" font-family="'Liberation Sans', Arial, Helvetica, sans-serif" font-size="29" font-weight="bold" font-style="normal" text-anchor="middle" fill="#000" stroke="#000" stroke-width="0.45" stroke-linejoin="round">C</text>
<line x1="681.90" y1="3202.80" x2="681.90" y2="3219.80" stroke="#000" stroke-width="3.3"/>
<text x="681.90" y="3250.10" font-family="'Liberation Sans', Arial, Helvetica, sans-serif" font-size="29" font-weight="bold" font-style="normal" text-anchor="middle" fill="#000" stroke="#000" stroke-width="0.45" stroke-linejoin="round">Pg</text>
<line x1="757.50" y1="3202.80" x2="757.50" y2="3219.80" stroke="#000" stroke-width="3.3"/>
<text x="757.50" y="3250.10" font-family="'Liberation Sans', Arial, Helvetica, sans-serif" font-size="29" font-weight="bold" font-style="normal" text-anchor="middle" fill="#000" stroke="#000" stroke-width="0.45" stroke-linejoin="round">CLH</text>
<text transform="translate(473.00 3014.00) rotate(-90) scale(1 1.05)" font-family="'Liberation Sans', Arial, Helvetica, sans-serif" font-size="30.4" font-weight="bold" text-anchor="middle" fill="#000" stroke="#000" stroke-width="0.45" stroke-linejoin="round">Relative mRNA expression</text>
<text x="683.00" y="2679.00" font-family="'Liberation Sans', Arial, Helvetica, sans-serif" font-size="35.5" font-weight="bold" font-style="italic" text-anchor="middle" fill="#000">tap1</text>
<line x1="605.70" y1="2833.30" x2="681.90" y2="2833.30" stroke="#000" stroke-width="1.5"/>
<text x="643.80" y="2836.00" font-family="'Liberation Sans', Arial, Helvetica, sans-serif" font-size="59.5" font-weight="bold" font-style="normal" text-anchor="middle" fill="#000">****</text>
<line x1="681.40" y1="2757.10" x2="757.50" y2="2757.10" stroke="#000" stroke-width="1.5"/>
<text x="719.45" y="2759.80" font-family="'Liberation Sans', Arial, Helvetica, sans-serif" font-size="59.5" font-weight="bold" font-style="normal" text-anchor="middle" fill="#000">**</text>
</g>
<g transform="translate(0 0.2)">
<line x1="986.95" y1="3020.30" x2="986.95" y2="3012.90" stroke="#5E7390" stroke-width="1.9"/>
<line x1="973.95" y1="3012.90" x2="999.95" y2="3012.90" stroke="#5E7390" stroke-width="1.9"/>
<rect x="961.60" y="3019.30" width="50.70" height="188.40" fill="#87AAD6" stroke="none" stroke-width="0"/>
<line x1="1062.60" y1="2915.30" x2="1062.60" y2="2911.40" stroke="#B5A38C" stroke-width="1.9"/>
<line x1="1049.60" y1="2911.40" x2="1075.60" y2="2911.40" stroke="#B5A38C" stroke-width="1.9"/>
<rect x="1037.20" y="2914.30" width="50.80" height="293.40" fill="#E0CDB4" stroke="none" stroke-width="0"/>
<line x1="1138.80" y1="2994.90" x2="1138.80" y2="2985.60" stroke="#9A9A9A" stroke-width="1.9"/>
<line x1="1125.80" y1="2985.60" x2="1151.80" y2="2985.60" stroke="#9A9A9A" stroke-width="1.9"/>
<rect x="1113.40" y="2993.90" width="50.80" height="213.80" fill="#F1EEE9" stroke="none" stroke-width="0"/>
<line x1="935.70" y1="2827.75" x2="935.70" y2="3209.35" stroke="#000" stroke-width="3.3"/>
<line x1="920.10" y1="3207.70" x2="1188.00" y2="3207.70" stroke="#000" stroke-width="3.3"/>
<line x1="919.70" y1="3207.70" x2="935.70" y2="3207.70" stroke="#000" stroke-width="3.3"/>
<text x="911.70" y="3218.31" font-family="'Liberation Sans', Arial, Helvetica, sans-serif" font-size="28.2" font-weight="bold" font-style="normal" text-anchor="end" fill="#000" stroke="#000" stroke-width="0.45" stroke-linejoin="round">0.0</text>
<line x1="919.70" y1="3113.12" x2="935.70" y2="3113.12" stroke="#000" stroke-width="3.3"/>
<text x="911.70" y="3123.74" font-family="'Liberation Sans', Arial, Helvetica, sans-serif" font-size="28.2" font-weight="bold" font-style="normal" text-anchor="end" fill="#000" stroke="#000" stroke-width="0.45" stroke-linejoin="round">0.5</text>
<line x1="919.70" y1="3018.55" x2="935.70" y2="3018.55" stroke="#000" stroke-width="3.3"/>
<text x="911.70" y="3029.16" font-family="'Liberation Sans', Arial, Helvetica, sans-serif" font-size="28.2" font-weight="bold" font-style="normal" text-anchor="end" fill="#000" stroke="#000" stroke-width="0.45" stroke-linejoin="round">1.0</text>
<line x1="919.70" y1="2923.97" x2="935.70" y2="2923.97" stroke="#000" stroke-width="3.3"/>
<text x="911.70" y="2934.59" font-family="'Liberation Sans', Arial, Helvetica, sans-serif" font-size="28.2" font-weight="bold" font-style="normal" text-anchor="end" fill="#000" stroke="#000" stroke-width="0.45" stroke-linejoin="round">1.5</text>
<line x1="919.70" y1="2829.40" x2="935.70" y2="2829.40" stroke="#000" stroke-width="3.3"/>
<text x="911.70" y="2840.01" font-family="'Liberation Sans', Arial, Helvetica, sans-serif" font-size="28.2" font-weight="bold" font-style="normal" text-anchor="end" fill="#000" stroke="#000" stroke-width="0.45" stroke-linejoin="round">2.0</text>
<line x1="987.00" y1="3207.70" x2="987.00" y2="3224.70" stroke="#000" stroke-width="3.3"/>
<text x="987.00" y="3254.00" font-family="'Liberation Sans', Arial, Helvetica, sans-serif" font-size="29" font-weight="bold" font-style="normal" text-anchor="middle" fill="#000" stroke="#000" stroke-width="0.45" stroke-linejoin="round">C</text>
<line x1="1062.60" y1="3207.70" x2="1062.60" y2="3224.70" stroke="#000" stroke-width="3.3"/>
<text x="1062.60" y="3254.00" font-family="'Liberation Sans', Arial, Helvetica, sans-serif" font-size="29" font-weight="bold" font-style="normal" text-anchor="middle" fill="#000" stroke="#000" stroke-width="0.45" stroke-linejoin="round">Pg</text>
<line x1="1138.80" y1="3207.70" x2="1138.80" y2="3224.70" stroke="#000" stroke-width="3.3"/>
<text x="1138.80" y="3254.00" font-family="'Liberation Sans', Arial, Helvetica, sans-serif" font-size="29" font-weight="bold" font-style="normal" text-anchor="middle" fill="#000" stroke="#000" stroke-width="0.45" stroke-linejoin="round">CLH</text>
<text transform="translate(854.50 3019.00) rotate(-90) scale(1 1.05)" font-family="'Liberation Sans', Arial, Helvetica, sans-serif" font-size="30.4" font-weight="bold" text-anchor="middle" fill="#000" stroke="#000" stroke-width="0.45" stroke-linejoin="round">Relative mRNA expression</text>
<text x="1062.50" y="2710.80" font-family="'Liberation Sans', Arial, Helvetica, sans-serif" font-size="35.5" font-weight="bold" font-style="italic" text-anchor="middle" fill="#000">irf1</text>
<line x1="986.50" y1="2866.00" x2="1063.10" y2="2866.00" stroke="#000" stroke-width="1.5"/>
<text x="1024.80" y="2868.70" font-family="'Liberation Sans', Arial, Helvetica, sans-serif" font-size="59.5" font-weight="bold" font-style="normal" text-anchor="middle" fill="#000">****</text>
<line x1="1062.60" y1="2789.80" x2="1139.30" y2="2789.80" stroke="#000" stroke-width="1.5"/>
<text x="1100.95" y="2792.50" font-family="'Liberation Sans', Arial, Helvetica, sans-serif" font-size="59.5" font-weight="bold" font-style="normal" text-anchor="middle" fill="#000">***</text>
</g>
<g transform="translate(0 0.2)">
<line x1="1328.65" y1="3116.90" x2="1328.65" y2="3110.00" stroke="#5E7390" stroke-width="1.9"/>
<line x1="1315.65" y1="3110.00" x2="1341.65" y2="3110.00" stroke="#5E7390" stroke-width="1.9"/>
<rect x="1303.30" y="3115.90" width="50.70" height="93.70" fill="#87AAD6" stroke="none" stroke-width="0"/>
<line x1="1404.30" y1="2893.30" x2="1404.30" y2="2889.40" stroke="#B5A38C" stroke-width="1.9"/>
<line x1="1391.30" y1="2889.40" x2="1417.30" y2="2889.40" stroke="#B5A38C" stroke-width="1.9"/>
<rect x="1378.90" y="2892.30" width="50.80" height="317.30" fill="#E0CDB4" stroke="none" stroke-width="0"/>
<line x1="1480.40" y1="2978.80" x2="1480.40" y2="2966.00" stroke="#9A9A9A" stroke-width="1.9"/>
<line x1="1467.40" y1="2966.00" x2="1493.40" y2="2966.00" stroke="#9A9A9A" stroke-width="1.9"/>
<rect x="1455.00" y="2977.80" width="50.80" height="231.80" fill="#F1EEE9" stroke="none" stroke-width="0"/>
<line x1="1277.40" y1="2831.15" x2="1277.40" y2="3211.25" stroke="#000" stroke-width="3.3"/>
<line x1="1261.30" y1="3209.60" x2="1530.20" y2="3209.60" stroke="#000" stroke-width="3.3"/>
<line x1="1261.40" y1="3209.60" x2="1277.40" y2="3209.60" stroke="#000" stroke-width="3.3"/>
<text x="1253.40" y="3220.21" font-family="'Liberation Sans', Arial, Helvetica, sans-serif" font-size="28.2" font-weight="bold" font-style="normal" text-anchor="end" fill="#000" stroke="#000" stroke-width="0.45" stroke-linejoin="round">0</text>
<line x1="1261.40" y1="3115.40" x2="1277.40" y2="3115.40" stroke="#000" stroke-width="3.3"/>
<text x="1253.40" y="3126.01" font-family="'Liberation Sans', Arial, Helvetica, sans-serif" font-size="28.2" font-weight="bold" font-style="normal" text-anchor="end" fill="#000" stroke="#000" stroke-width="0.45" stroke-linejoin="round">1</text>
<line x1="1261.40" y1="3021.20" x2="1277.40" y2="3021.20" stroke="#000" stroke-width="3.3"/>
<text x="1253.40" y="3031.81" font-family="'Liberation Sans', Arial, Helvetica, sans-serif" font-size="28.2" font-weight="bold" font-style="normal" text-anchor="end" fill="#000" stroke="#000" stroke-width="0.45" stroke-linejoin="round">2</text>
<line x1="1261.40" y1="2927.00" x2="1277.40" y2="2927.00" stroke="#000" stroke-width="3.3"/>
<text x="1253.40" y="2937.61" font-family="'Liberation Sans', Arial, Helvetica, sans-serif" font-size="28.2" font-weight="bold" font-style="normal" text-anchor="end" fill="#000" stroke="#000" stroke-width="0.45" stroke-linejoin="round">3</text>
<line x1="1261.40" y1="2832.80" x2="1277.40" y2="2832.80" stroke="#000" stroke-width="3.3"/>
<text x="1253.40" y="2843.41" font-family="'Liberation Sans', Arial, Helvetica, sans-serif" font-size="28.2" font-weight="bold" font-style="normal" text-anchor="end" fill="#000" stroke="#000" stroke-width="0.45" stroke-linejoin="round">4</text>
<line x1="1328.20" y1="3209.60" x2="1328.20" y2="3226.60" stroke="#000" stroke-width="3.3"/>
<text x="1328.20" y="3256.00" font-family="'Liberation Sans', Arial, Helvetica, sans-serif" font-size="29" font-weight="bold" font-style="normal" text-anchor="middle" fill="#000" stroke="#000" stroke-width="0.45" stroke-linejoin="round">C</text>
<line x1="1404.30" y1="3209.60" x2="1404.30" y2="3226.60" stroke="#000" stroke-width="3.3"/>
<text x="1404.30" y="3256.00" font-family="'Liberation Sans', Arial, Helvetica, sans-serif" font-size="29" font-weight="bold" font-style="normal" text-anchor="middle" fill="#000" stroke="#000" stroke-width="0.45" stroke-linejoin="round">Pg</text>
<line x1="1480.40" y1="3209.60" x2="1480.40" y2="3226.60" stroke="#000" stroke-width="3.3"/>
<text x="1480.40" y="3256.00" font-family="'Liberation Sans', Arial, Helvetica, sans-serif" font-size="29" font-weight="bold" font-style="normal" text-anchor="middle" fill="#000" stroke="#000" stroke-width="0.45" stroke-linejoin="round">CLH</text>
<text transform="translate(1221.50 3021.00) rotate(-90) scale(1 1.05)" font-family="'Liberation Sans', Arial, Helvetica, sans-serif" font-size="30.4" font-weight="bold" text-anchor="middle" fill="#000" stroke="#000" stroke-width="0.45" stroke-linejoin="round">Relative mRNA expression</text>
<text x="1405.50" y="2690.30" font-family="'Liberation Sans', Arial, Helvetica, sans-serif" font-size="35.5" font-weight="bold" font-style="italic" text-anchor="middle" fill="#000">stat2</text>
<line x1="1328.20" y1="2844.00" x2="1404.80" y2="2844.00" stroke="#000" stroke-width="1.5"/>
<text x="1366.50" y="2846.70" font-family="'Liberation Sans', Arial, Helvetica, sans-serif" font-size="59.5" font-weight="bold" font-style="normal" text-anchor="middle" fill="#000">****</text>
<line x1="1404.30" y1="2768.40" x2="1480.90" y2="2768.40" stroke="#000" stroke-width="1.5"/>
<text x="1442.60" y="2771.10" font-family="'Liberation Sans', Arial, Helvetica, sans-serif" font-size="59.5" font-weight="bold" font-style="normal" text-anchor="middle" fill="#000">***</text>
</g>
</g>
<g id="gsea">
<rect x="180.40" y="1249.00" width="788.40" height="773.50" fill="#F2F2F2" stroke="none" stroke-width="0"/>
<text x="571.20" y="1278.80" font-family="'Liberation Sans', Arial, Helvetica, sans-serif" font-size="28.8" font-weight="bold" font-style="normal" text-anchor="middle" fill="#000">Enrichment plot:</text>
<text x="574.60" y="1318.50" font-family="'Liberation Sans', Arial, Helvetica, sans-serif" font-size="28.4" font-weight="bold" font-style="normal" text-anchor="middle" fill="#000">WP_TYPE_II_INTERFERON_SIGNALING_IFNG</text>
<rect x="271.30" y="1336.80" width="685.30" height="571.20" fill="#fff" stroke="none" stroke-width="0"/>
<line x1="271.30" y1="1550.81" x2="956.60" y2="1550.81" stroke="#d0d0d0" stroke-width="1" stroke-dasharray="3 3"/>
<line x1="271.30" y1="1519.22" x2="956.60" y2="1519.22" stroke="#d0d0d0" stroke-width="1" stroke-dasharray="3 3"/>
<line x1="271.30" y1="1487.63" x2="956.60" y2="1487.63" stroke="#d0d0d0" stroke-width="1" stroke-dasharray="3 3"/>
<line x1="271.30" y1="1456.04" x2="956.60" y2="1456.04" stroke="#d0d0d0" stroke-width="1" stroke-dasharray="3 3"/>
<line x1="271.30" y1="1424.45" x2="956.60" y2="1424.45" stroke="#d0d0d0" stroke-width="1" stroke-dasharray="3 3"/>
<line x1="271.30" y1="1392.86" x2="956.60" y2="1392.86" stroke="#d0d0d0" stroke-width="1" stroke-dasharray="3 3"/>
<line x1="271.30" y1="1361.27" x2="956.60" y2="1361.27" stroke="#d0d0d0" stroke-width="1" stroke-dasharray="3 3"/>
<line x1="396.82" y1="1336.80" x2="396.82" y2="1611.50" stroke="#d0d0d0" stroke-width="1" stroke-dasharray="3 3"/>
<line x1="396.82" y1="1725.70" x2="396.82" y2="1908.00" stroke="#d0d0d0" stroke-width="1" stroke-dasharray="3 3"/>
<line x1="522.34" y1="1336.80" x2="522.34" y2="1611.50" stroke="#d0d0d0" stroke-width="1" stroke-dasharray="3 3"/>
<line x1="522.34" y1="1725.70" x2="522.34" y2="1908.00" stroke="#d0d0d0" stroke-width="1" stroke-dasharray="3 3"/>
<line x1="647.86" y1="1336.80" x2="647.86" y2="1611.50" stroke="#d0d0d0" stroke-width="1" stroke-dasharray="3 3"/>
<line x1="647.86" y1="1725.70" x2="647.86" y2="1908.00" stroke="#d0d0d0" stroke-width="1" stroke-dasharray="3 3"/>
<line x1="773.38" y1="1336.80" x2="773.38" y2="1611.50" stroke="#d0d0d0" stroke-width="1" stroke-dasharray="3 3"/>
<line x1="773.38" y1="1725.70" x2="773.38" y2="1908.00" stroke="#d0d0d0" stroke-width="1" stroke-dasharray="3 3"/>
<line x1="898.90" y1="1336.80" x2="898.90" y2="1611.50" stroke="#d0d0d0" stroke-width="1" stroke-dasharray="3 3"/>
<line x1="898.90" y1="1725.70" x2="898.90" y2="1908.00" stroke="#d0d0d0" stroke-width="1" stroke-dasharray="3 3"/>
<line x1="271.30" y1="1582.40" x2="956.60" y2="1582.40" stroke="#8c8c8c" stroke-width="1"/>
<text x="260.50" y="1588.80" font-family="'DejaVu Sans', 'Liberation Sans', sans-serif" font-size="18.3" font-weight="normal" font-style="normal" text-anchor="end" fill="#444">0.0</text>
<text x="260.50" y="1557.21" font-family="'DejaVu Sans', 'Liberation Sans', sans-serif" font-size="18.3" font-weight="normal" font-style="normal" text-anchor="end" fill="#444">0.1</text>
<text x="260.50" y="1525.62" font-family="'DejaVu Sans', 'Liberation Sans', sans-serif" font-size="18.3" font-weight="normal" font-style="normal" text-anchor="end" fill="#444">0.2</text>
<text x="260.50" y="1494.03" font-family="'DejaVu Sans', 'Liberation Sans', sans-serif" font-size="18.3" font-weight="normal" font-style="normal" text-anchor="end" fill="#444">0.3</text>
<text x="260.50" y="1462.44" font-family="'DejaVu Sans', 'Liberation Sans', sans-serif" font-size="18.3" font-weight="normal" font-style="normal" text-anchor="end" fill="#444">0.4</text>
<text x="260.50" y="1430.85" font-family="'DejaVu Sans', 'Liberation Sans', sans-serif" font-size="18.3" font-weight="normal" font-style="normal" text-anchor="end" fill="#444">0.5</text>
<text x="260.50" y="1399.26" font-family="'DejaVu Sans', 'Liberation Sans', sans-serif" font-size="18.3" font-weight="normal" font-style="normal" text-anchor="end" fill="#444">0.6</text>
<text x="260.50" y="1367.67" font-family="'DejaVu Sans', 'Liberation Sans', sans-serif" font-size="18.3" font-weight="normal" font-style="normal" text-anchor="end" fill="#444">0.7</text>
<text x="219.50" y="1475.00" font-family="'DejaVu Sans', 'Liberation Sans', sans-serif" font-size="21.8" font-weight="normal" font-style="normal" text-anchor="middle" fill="#333" transform="rotate(-90 219.50 1475.00)">Enrichment score (ES)</text>
<polyline fill="none" stroke="#00F200" stroke-width="4" stroke-linejoin="round" stroke-linecap="round" points="271.3,1582.3 271.7,1550.3 272.0,1516.8 272.6,1489.3 273.2,1464.9 273.8,1443.5 277.8,1444.8 278.1,1425.2 285.1,1428.9 286.0,1415.5 289.3,1416.7 290.0,1388.6 297.3,1393.2 299.1,1381.6 312.5,1388.6 314.4,1381.0 315.3,1370.9 316.5,1355.7 321.4,1357.5 322.3,1349.0 345.5,1360.6 346.4,1354.5 354.0,1358.1 355.2,1352.9 367.4,1356.6 407.1,1378.9 408.3,1375.8 441.3,1391.1 442.5,1388.0 560.0,1445.1 644.8,1485.6 677.4,1503.0 679.9,1500.9 700.3,1511.3 703.4,1509.1 718.6,1517.4 721.1,1515.2 765.9,1538.7 768.1,1535.1 816.3,1561.0 818.7,1556.4 864.5,1580.2 866.9,1573.2 917.5,1599.7 919.1,1580.8 925.2,1581.4"/>
<line x1="272.90" y1="1614.20" x2="272.90" y2="1703.70" stroke="#222" stroke-width="1.3"/>
<line x1="275.30" y1="1614.20" x2="275.30" y2="1703.70" stroke="#222" stroke-width="1.3"/>
<line x1="278.40" y1="1614.20" x2="278.40" y2="1703.70" stroke="#222" stroke-width="1.3"/>
<line x1="285.70" y1="1614.20" x2="285.70" y2="1703.70" stroke="#222" stroke-width="1.3"/>
<line x1="288.10" y1="1614.20" x2="288.10" y2="1703.70" stroke="#222" stroke-width="1.3"/>
<line x1="290.60" y1="1614.20" x2="290.60" y2="1703.70" stroke="#222" stroke-width="1.3"/>
<line x1="299.40" y1="1614.20" x2="299.40" y2="1703.70" stroke="#222" stroke-width="1.3"/>
<line x1="313.40" y1="1614.20" x2="313.40" y2="1703.70" stroke="#222" stroke-width="1.3"/>
<line x1="315.30" y1="1614.20" x2="315.30" y2="1703.70" stroke="#222" stroke-width="1.3"/>
<line x1="317.10" y1="1614.20" x2="317.10" y2="1703.70" stroke="#222" stroke-width="1.3"/>
<line x1="322.60" y1="1614.20" x2="322.60" y2="1703.70" stroke="#222" stroke-width="1.3"/>
<line x1="346.70" y1="1614.20" x2="346.70" y2="1703.70" stroke="#222" stroke-width="1.3"/>
<line x1="355.20" y1="1614.20" x2="355.20" y2="1703.70" stroke="#222" stroke-width="1.3"/>
<line x1="408.60" y1="1614.20" x2="408.60" y2="1703.70" stroke="#222" stroke-width="1.3"/>
<line x1="442.80" y1="1614.20" x2="442.80" y2="1703.70" stroke="#222" stroke-width="1.3"/>
<line x1="508.70" y1="1614.20" x2="508.70" y2="1703.70" stroke="#222" stroke-width="1.3"/>
<line x1="644.90" y1="1614.20" x2="644.90" y2="1703.70" stroke="#222" stroke-width="1.3"/>
<line x1="679.90" y1="1614.20" x2="679.90" y2="1703.70" stroke="#222" stroke-width="1.3"/>
<line x1="689.00" y1="1614.20" x2="689.00" y2="1703.70" stroke="#222" stroke-width="1.3"/>
<line x1="702.50" y1="1614.20" x2="702.50" y2="1703.70" stroke="#222" stroke-width="1.3"/>
<line x1="704.30" y1="1614.20" x2="704.30" y2="1703.70" stroke="#222" stroke-width="1.3"/>
<line x1="721.00" y1="1614.20" x2="721.00" y2="1703.70" stroke="#222" stroke-width="1.3"/>
<line x1="767.40" y1="1614.20" x2="767.40" y2="1703.70" stroke="#222" stroke-width="1.3"/>
<line x1="818.00" y1="1614.20" x2="818.00" y2="1703.70" stroke="#222" stroke-width="1.3"/>
<line x1="866.30" y1="1614.20" x2="866.30" y2="1703.70" stroke="#222" stroke-width="1.3"/>
<line x1="919.00" y1="1614.20" x2="919.00" y2="1703.70" stroke="#222" stroke-width="1.3"/>
<rect x="271.30" y="1703.70" width="20.70" height="22.00" fill="#FF3A3A" stroke="none" stroke-width="0" shape-rendering="crispEdges"/>
<rect x="292.00" y="1703.70" width="25.00" height="22.00" fill="#FF4444" stroke="none" stroke-width="0" shape-rendering="crispEdges"/>
<rect x="317.00" y="1703.70" width="30.00" height="22.00" fill="#FF4D4D" stroke="none" stroke-width="0" shape-rendering="crispEdges"/>
<rect x="347.00" y="1703.70" width="45.00" height="22.00" fill="#FF5454" stroke="none" stroke-width="0" shape-rendering="crispEdges"/>
<rect x="392.00" y="1703.70" width="39.50" height="22.00" fill="#FF6B7C" stroke="none" stroke-width="0" shape-rendering="crispEdges"/>
<rect x="431.50" y="1703.70" width="47.90" height="22.00" fill="#FF8A8A" stroke="none" stroke-width="0" shape-rendering="crispEdges"/>
<rect x="479.40" y="1703.70" width="158.00" height="22.00" fill="#FFB8E2" stroke="none" stroke-width="0" shape-rendering="crispEdges"/>
<rect x="637.40" y="1703.70" width="95.00" height="22.00" fill="#D6D6FF" stroke="none" stroke-width="0" shape-rendering="crispEdges"/>
<rect x="732.40" y="1703.70" width="45.60" height="22.00" fill="#CAC2FF" stroke="none" stroke-width="0" shape-rendering="crispEdges"/>
<rect x="778.00" y="1703.70" width="36.70" height="22.00" fill="#8A8AFF" stroke="none" stroke-width="0" shape-rendering="crispEdges"/>
<rect x="814.70" y="1703.70" width="90.90" height="22.00" fill="#7060F0" stroke="none" stroke-width="0" shape-rendering="crispEdges"/>
<rect x="905.60" y="1703.70" width="12.80" height="22.00" fill="#2A00D4" stroke="none" stroke-width="0" shape-rendering="crispEdges"/>
<rect x="918.40" y="1703.70" width="5.20" height="22.00" fill="#5A00A8" stroke="none" stroke-width="0" shape-rendering="crispEdges"/>
<line x1="272.90" y1="1703.70" x2="272.90" y2="1725.70" stroke="#000" stroke-width="1" opacity="0.18"/>
<line x1="275.30" y1="1703.70" x2="275.30" y2="1725.70" stroke="#000" stroke-width="1" opacity="0.18"/>
<line x1="278.40" y1="1703.70" x2="278.40" y2="1725.70" stroke="#000" stroke-width="1" opacity="0.18"/>
<line x1="285.70" y1="1703.70" x2="285.70" y2="1725.70" stroke="#000" stroke-width="1" opacity="0.18"/>
<line x1="288.10" y1="1703.70" x2="288.10" y2="1725.70" stroke="#000" stroke-width="1" opacity="0.18"/>
<line x1="290.60" y1="1703.70" x2="290.60" y2="1725.70" stroke="#000" stroke-width="1" opacity="0.18"/>
<line x1="299.40" y1="1703.70" x2="299.40" y2="1725.70" stroke="#000" stroke-width="1" opacity="0.18"/>
<line x1="313.40" y1="1703.70" x2="313.40" y2="1725.70" stroke="#000" stroke-width="1" opacity="0.18"/>
<line x1="315.30" y1="1703.70" x2="315.30" y2="1725.70" stroke="#000" stroke-width="1" opacity="0.18"/>
<line x1="317.10" y1="1703.70" x2="317.10" y2="1725.70" stroke="#000" stroke-width="1" opacity="0.18"/>
<line x1="322.60" y1="1703.70" x2="322.60" y2="1725.70" stroke="#000" stroke-width="1" opacity="0.18"/>
<line x1="346.70" y1="1703.70" x2="346.70" y2="1725.70" stroke="#000" stroke-width="1" opacity="0.18"/>
<line x1="355.20" y1="1703.70" x2="355.20" y2="1725.70" stroke="#000" stroke-width="1" opacity="0.18"/>
<line x1="408.60" y1="1703.70" x2="408.60" y2="1725.70" stroke="#000" stroke-width="1" opacity="0.18"/>
<line x1="442.80" y1="1703.70" x2="442.80" y2="1725.70" stroke="#000" stroke-width="1" opacity="0.18"/>
<line x1="508.70" y1="1703.70" x2="508.70" y2="1725.70" stroke="#000" stroke-width="1" opacity="0.18"/>
<line x1="644.90" y1="1703.70" x2="644.90" y2="1725.70" stroke="#000" stroke-width="1" opacity="0.18"/>
<line x1="679.90" y1="1703.70" x2="679.90" y2="1725.70" stroke="#000" stroke-width="1" opacity="0.18"/>
<line x1="689.00" y1="1703.70" x2="689.00" y2="1725.70" stroke="#000" stroke-width="1" opacity="0.18"/>
<line x1="702.50" y1="1703.70" x2="702.50" y2="1725.70" stroke="#000" stroke-width="1" opacity="0.18"/>
<line x1="704.30" y1="1703.70" x2="704.30" y2="1725.70" stroke="#000" stroke-width="1" opacity="0.18"/>
<line x1="721.00" y1="1703.70" x2="721.00" y2="1725.70" stroke="#000" stroke-width="1" opacity="0.18"/>
<line x1="767.40" y1="1703.70" x2="767.40" y2="1725.70" stroke="#000" stroke-width="1" opacity="0.18"/>
<line x1="818.00" y1="1703.70" x2="818.00" y2="1725.70" stroke="#000" stroke-width="1" opacity="0.18"/>
<line x1="866.30" y1="1703.70" x2="866.30" y2="1725.70" stroke="#000" stroke-width="1" opacity="0.18"/>
<line x1="919.00" y1="1703.70" x2="919.00" y2="1725.70" stroke="#000" stroke-width="1" opacity="0.18"/>
<rect x="271.3" y="1336.8" width="685.3" height="274.7" fill="none" stroke="#a6a6a6" stroke-width="1.2"/>
<rect x="271.3" y="1611.5" width="685.3" height="114.2" fill="none" stroke="#a6a6a6" stroke-width="1.2"/>
<rect x="271.3" y="1725.7" width="685.3" height="182.3" fill="none" stroke="#a6a6a6" stroke-width="1.2"/>
<line x1="271.30" y1="1703.70" x2="956.60" y2="1703.70" stroke="#a6a6a6" stroke-width="1"/>
<line x1="271.30" y1="1776.70" x2="956.60" y2="1776.70" stroke="#d0d0d0" stroke-width="1" stroke-dasharray="3 3"/>
<text x="259.50" y="1782.50" font-family="'Liberation Sans', Arial, Helvetica, sans-serif" font-size="16.5" font-weight="normal" font-style="normal" text-anchor="end" fill="#222">2</text>
<line x1="271.30" y1="1827.30" x2="956.60" y2="1827.30" stroke="#d0d0d0" stroke-width="1" stroke-dasharray="3 3"/>
<text x="259.50" y="1833.10" font-family="'Liberation Sans', Arial, Helvetica, sans-serif" font-size="16.5" font-weight="normal" font-style="normal" text-anchor="end" fill="#222">0</text>
<line x1="271.30" y1="1877.90" x2="956.60" y2="1877.90" stroke="#d0d0d0" stroke-width="1" stroke-dasharray="3 3"/>
<text x="259.50" y="1883.70" font-family="'Liberation Sans', Arial, Helvetica, sans-serif" font-size="16.5" font-weight="normal" font-style="normal" text-anchor="end" fill="#222">-2</text>
<line x1="581.40" y1="1725.70" x2="581.40" y2="1908.00" stroke="#b5b5b5" stroke-width="1.2" stroke-dasharray="7 4"/>
<polygon fill="#BEBEBE" points="271.3,1827.3 271.3,1776.3 272.9,1787.6 275.3,1795.2 279.0,1799.8 285.1,1802.9 297.3,1807.4 318.6,1811.1 343.0,1814.5 373.5,1817.2 404.1,1819.0 434.6,1820.9 465.1,1822.7 513.9,1824.5 581.0,1826.7 581.0,1827.3"/>
<polygon fill="#BEBEBE" points="581.4,1826.1 924.6,1825.4 924.6,1900.5 923.0,1900.5 922.1,1868.5 920.0,1859.3 915.4,1851.7 907.8,1846.5 895.6,1842.5 865.1,1838.3 834.6,1835.5 773.5,1832.5 669.8,1828.2 581.4,1826.7"/>
<rect x="514.50" y="1805.50" width="155.00" height="24.00" fill="#fff" stroke="none" stroke-width="0"/>
<text x="514.20" y="1821.20" font-family="'Liberation Sans', Arial, Helvetica, sans-serif" font-size="14.9" font-weight="normal" font-style="normal" text-anchor="start" fill="#222">Zero cross at</text>
<text x="620.30" y="1824.30" font-family="'Liberation Sans', Arial, Helvetica, sans-serif" font-size="15.8" font-weight="normal" font-style="normal" text-anchor="start" fill="#000">12,357</text>
<text x="273.30" y="1739.40" font-family="'Liberation Sans', Arial, Helvetica, sans-serif" font-size="14" font-weight="normal" font-style="normal" text-anchor="start" fill="#FF2A2A" letter-spacing="1.25">'Pg' (positively correlated)</text>
<text x="613.40" y="1902.00" font-family="'Liberation Sans', Arial, Helvetica, sans-serif" font-size="14" font-weight="normal" font-style="normal" text-anchor="start" fill="#2A2AFF" letter-spacing="1.25">'CCLH' (negatively correlated)</text>
<line x1="271.30" y1="1908.00" x2="271.30" y2="1912.00" stroke="#8c8c8c" stroke-width="1"/>
<text x="269.20" y="1934.20" font-family="'Liberation Sans', Arial, Helvetica, sans-serif" font-size="15.8" font-weight="normal" font-style="normal" text-anchor="middle" fill="#111" stroke="#111" stroke-width="0.45">0</text>
<line x1="396.82" y1="1908.00" x2="396.82" y2="1912.00" stroke="#8c8c8c" stroke-width="1"/>
<text x="391.80" y="1934.20" font-family="'Liberation Sans', Arial, Helvetica, sans-serif" font-size="15.8" font-weight="normal" font-style="normal" text-anchor="middle" fill="#111" stroke="#111" stroke-width="0.45">5000</text>
<line x1="522.34" y1="1908.00" x2="522.34" y2="1912.00" stroke="#8c8c8c" stroke-width="1"/>
<text x="526.40" y="1934.20" font-family="'Liberation Sans', Arial, Helvetica, sans-serif" font-size="15.8" font-weight="normal" font-style="normal" text-anchor="middle" fill="#111" stroke="#111" stroke-width="0.45">10,000</text>
<line x1="647.86" y1="1908.00" x2="647.86" y2="1912.00" stroke="#8c8c8c" stroke-width="1"/>
<text x="636.90" y="1934.20" font-family="'Liberation Sans', Arial, Helvetica, sans-serif" font-size="15.8" font-weight="normal" font-style="normal" text-anchor="middle" fill="#111" stroke="#111" stroke-width="0.45">15,000</text>
<line x1="773.38" y1="1908.00" x2="773.38" y2="1912.00" stroke="#8c8c8c" stroke-width="1"/>
<text x="771.70" y="1934.20" font-family="'Liberation Sans', Arial, Helvetica, sans-serif" font-size="15.8" font-weight="normal" font-style="normal" text-anchor="middle" fill="#111" stroke="#111" stroke-width="0.45">20,000</text>
<line x1="898.90" y1="1908.00" x2="898.90" y2="1912.00" stroke="#8c8c8c" stroke-width="1"/>
<text x="891.50" y="1934.20" font-family="'Liberation Sans', Arial, Helvetica, sans-serif" font-size="15.8" font-weight="normal" font-style="normal" text-anchor="middle" fill="#111" stroke="#111" stroke-width="0.45">25,000</text>
<text x="614.00" y="1961.50" font-family="'Liberation Sans', Arial, Helvetica, sans-serif" font-size="19.3" font-weight="normal" font-style="normal" text-anchor="middle" fill="#111">Rank in Ordered Dataset</text>
<text x="231.50" y="1818.00" font-family="'Liberation Sans', Arial, Helvetica, sans-serif" font-size="19.2" font-weight="normal" font-style="normal" text-anchor="middle" fill="#222" transform="rotate(-90 231.50 1818.00)">Ranked list metric (Signal2Noise)</text>
<rect x="303.40" y="1981.30" width="542.40" height="39.00" fill="#fff" stroke="#000" stroke-width="1.4"/>
<line x1="308.00" y1="2000.50" x2="333.30" y2="2000.50" stroke="#00F400" stroke-width="2.4"/>
<text x="338.30" y="2006.00" font-family="'Liberation Sans', Arial, Helvetica, sans-serif" font-size="19.4" font-weight="normal" font-style="normal" text-anchor="start" fill="#111">Enrichment profile</text>
<line x1="504.00" y1="2000.80" x2="527.60" y2="2000.80" stroke="#555" stroke-width="2"/>
<text x="533.50" y="2006.00" font-family="'Liberation Sans', Arial, Helvetica, sans-serif" font-size="19.4" font-weight="normal" font-style="normal" text-anchor="start" fill="#111">Hits</text>
<line x1="577.00" y1="1991.00" x2="600.00" y2="1991.00" stroke="#e3e3e3" stroke-width="1"/>
<line x1="614.50" y1="2001.50" x2="637.40" y2="2001.50" stroke="#d9d9d9" stroke-width="2"/>
<text x="644.30" y="2006.00" font-family="'Liberation Sans', Arial, Helvetica, sans-serif" font-size="19.4" font-weight="normal" font-style="normal" text-anchor="start" fill="#111">Ranking metric scores</text>
</g>
<g id="heatmap">
<rect x="1280.80" y="183.70" width="224.64" height="31.20" fill="#00D450" stroke="none" stroke-width="0" shape-rendering="crispEdges"/>
<rect x="1505.14" y="183.70" width="224.64" height="31.20" fill="#66B5FF" stroke="none" stroke-width="0" shape-rendering="crispEdges"/>
<rect x="1729.48" y="183.70" width="224.64" height="31.20" fill="#FC9288" stroke="none" stroke-width="0" shape-rendering="crispEdges"/>
<g shape-rendering="crispEdges">
<rect x="1280.80" y="221.50" width="75.20" height="52.10" fill="rgb(166,166,255)" stroke="none" stroke-width="0"/>
<rect x="1355.60" y="221.50" width="75.20" height="52.10" fill="rgb(120,120,255)" stroke="none" stroke-width="0"/>
<rect x="1430.40" y="221.50" width="75.10" height="52.10" fill="rgb(150,150,255)" stroke="none" stroke-width="0"/>
<rect x="1505.10" y="221.50" width="75.20" height="52.10" fill="rgb(255,92,92)" stroke="none" stroke-width="0"/>
<rect x="1579.90" y="221.50" width="75.20" height="52.10" fill="rgb(255,145,145)" stroke="none" stroke-width="0"/>
<rect x="1654.70" y="221.50" width="75.20" height="52.10" fill="rgb(255,190,190)" stroke="none" stroke-width="0"/>
<rect x="1729.50" y="221.50" width="75.20" height="52.10" fill="rgb(255,210,210)" stroke="none" stroke-width="0"/>
<rect x="1804.30" y="221.50" width="75.10" height="52.10" fill="rgb(215,215,255)" stroke="none" stroke-width="0"/>
<rect x="1879.00" y="221.50" width="75.20" height="52.10" fill="rgb(255,250,250)" stroke="none" stroke-width="0"/>
<rect x="1280.80" y="273.20" width="75.20" height="52.10" fill="rgb(120,120,255)" stroke="none" stroke-width="0"/>
<rect x="1355.60" y="273.20" width="75.20" height="52.10" fill="rgb(135,135,255)" stroke="none" stroke-width="0"/>
<rect x="1430.40" y="273.20" width="75.10" height="52.10" fill="rgb(120,120,255)" stroke="none" stroke-width="0"/>
<rect x="1505.10" y="273.20" width="75.20" height="52.10" fill="rgb(255,150,150)" stroke="none" stroke-width="0"/>
<rect x="1579.90" y="273.20" width="75.20" height="52.10" fill="rgb(255,165,165)" stroke="none" stroke-width="0"/>
<rect x="1654.70" y="273.20" width="75.20" height="52.10" fill="rgb(255,168,168)" stroke="none" stroke-width="0"/>
<rect x="1729.50" y="273.20" width="75.20" height="52.10" fill="rgb(255,255,255)" stroke="none" stroke-width="0"/>
<rect x="1804.30" y="273.20" width="75.10" height="52.10" fill="rgb(255,195,195)" stroke="none" stroke-width="0"/>
<rect x="1879.00" y="273.20" width="75.20" height="52.10" fill="rgb(255,200,200)" stroke="none" stroke-width="0"/>
<rect x="1280.80" y="324.90" width="75.20" height="52.10" fill="rgb(135,135,255)" stroke="none" stroke-width="0"/>
<rect x="1355.60" y="324.90" width="75.20" height="52.10" fill="rgb(120,120,255)" stroke="none" stroke-width="0"/>
<rect x="1430.40" y="324.90" width="75.10" height="52.10" fill="rgb(135,135,255)" stroke="none" stroke-width="0"/>
<rect x="1505.10" y="324.90" width="75.20" height="52.10" fill="rgb(255,102,102)" stroke="none" stroke-width="0"/>
<rect x="1579.90" y="324.90" width="75.20" height="52.10" fill="rgb(255,178,178)" stroke="none" stroke-width="0"/>
<rect x="1654.70" y="324.90" width="75.20" height="52.10" fill="rgb(255,210,210)" stroke="none" stroke-width="0"/>
<rect x="1729.50" y="324.90" width="75.20" height="52.10" fill="rgb(255,190,190)" stroke="none" stroke-width="0"/>
<rect x="1804.30" y="324.90" width="75.10" height="52.10" fill="rgb(255,225,225)" stroke="none" stroke-width="0"/>
<rect x="1879.00" y="324.90" width="75.20" height="52.10" fill="rgb(255,238,238)" stroke="none" stroke-width="0"/>
<rect x="1280.80" y="376.60" width="75.20" height="52.10" fill="rgb(125,125,255)" stroke="none" stroke-width="0"/>
<rect x="1355.60" y="376.60" width="75.20" height="52.10" fill="rgb(125,125,255)" stroke="none" stroke-width="0"/>
<rect x="1430.40" y="376.60" width="75.10" height="52.10" fill="rgb(125,125,255)" stroke="none" stroke-width="0"/>
<rect x="1505.10" y="376.60" width="75.20" height="52.10" fill="rgb(255,188,188)" stroke="none" stroke-width="0"/>
<rect x="1579.90" y="376.60" width="75.20" height="52.10" fill="rgb(255,145,145)" stroke="none" stroke-width="0"/>
<rect x="1654.70" y="376.60" width="75.20" height="52.10" fill="rgb(255,168,168)" stroke="none" stroke-width="0"/>
<rect x="1729.50" y="376.60" width="75.20" height="52.10" fill="rgb(255,228,228)" stroke="none" stroke-width="0"/>
<rect x="1804.30" y="376.60" width="75.10" height="52.10" fill="rgb(255,190,190)" stroke="none" stroke-width="0"/>
<rect x="1879.00" y="376.60" width="75.20" height="52.10" fill="rgb(255,210,210)" stroke="none" stroke-width="0"/>
<rect x="1280.80" y="428.30" width="75.20" height="52.10" fill="rgb(222,222,255)" stroke="none" stroke-width="0"/>
<rect x="1355.60" y="428.30" width="75.20" height="52.10" fill="rgb(225,225,255)" stroke="none" stroke-width="0"/>
<rect x="1430.40" y="428.30" width="75.10" height="52.10" fill="rgb(108,108,255)" stroke="none" stroke-width="0"/>
<rect x="1505.10" y="428.30" width="75.20" height="52.10" fill="rgb(255,92,92)" stroke="none" stroke-width="0"/>
<rect x="1579.90" y="428.30" width="75.20" height="52.10" fill="rgb(255,100,100)" stroke="none" stroke-width="0"/>
<rect x="1654.70" y="428.30" width="75.20" height="52.10" fill="rgb(255,253,253)" stroke="none" stroke-width="0"/>
<rect x="1729.50" y="428.30" width="75.20" height="52.10" fill="rgb(170,170,255)" stroke="none" stroke-width="0"/>
<rect x="1804.30" y="428.30" width="75.10" height="52.10" fill="rgb(205,205,255)" stroke="none" stroke-width="0"/>
<rect x="1879.00" y="428.30" width="75.20" height="52.10" fill="rgb(255,228,228)" stroke="none" stroke-width="0"/>
<rect x="1280.80" y="480.00" width="75.20" height="52.10" fill="rgb(125,125,255)" stroke="none" stroke-width="0"/>
<rect x="1355.60" y="480.00" width="75.20" height="52.10" fill="rgb(130,130,255)" stroke="none" stroke-width="0"/>
<rect x="1430.40" y="480.00" width="75.10" height="52.10" fill="rgb(142,142,255)" stroke="none" stroke-width="0"/>
<rect x="1505.10" y="480.00" width="75.20" height="52.10" fill="rgb(255,115,115)" stroke="none" stroke-width="0"/>
<rect x="1579.90" y="480.00" width="75.20" height="52.10" fill="rgb(255,160,160)" stroke="none" stroke-width="0"/>
<rect x="1654.70" y="480.00" width="75.20" height="52.10" fill="rgb(255,175,175)" stroke="none" stroke-width="0"/>
<rect x="1729.50" y="480.00" width="75.20" height="52.10" fill="rgb(255,222,222)" stroke="none" stroke-width="0"/>
<rect x="1804.30" y="480.00" width="75.10" height="52.10" fill="rgb(255,242,242)" stroke="none" stroke-width="0"/>
<rect x="1879.00" y="480.00" width="75.20" height="52.10" fill="rgb(255,255,255)" stroke="none" stroke-width="0"/>
<rect x="1280.80" y="531.70" width="75.20" height="52.10" fill="rgb(140,140,255)" stroke="none" stroke-width="0"/>
<rect x="1355.60" y="531.70" width="75.20" height="52.10" fill="rgb(178,178,255)" stroke="none" stroke-width="0"/>
<rect x="1430.40" y="531.70" width="75.10" height="52.10" fill="rgb(150,150,255)" stroke="none" stroke-width="0"/>
<rect x="1505.10" y="531.70" width="75.20" height="52.10" fill="rgb(255,62,62)" stroke="none" stroke-width="0"/>
<rect x="1579.90" y="531.70" width="75.20" height="52.10" fill="rgb(255,132,132)" stroke="none" stroke-width="0"/>
<rect x="1654.70" y="531.70" width="75.20" height="52.10" fill="rgb(255,205,205)" stroke="none" stroke-width="0"/>
<rect x="1729.50" y="531.70" width="75.20" height="52.10" fill="rgb(215,215,255)" stroke="none" stroke-width="0"/>
<rect x="1804.30" y="531.70" width="75.10" height="52.10" fill="rgb(225,225,255)" stroke="none" stroke-width="0"/>
<rect x="1879.00" y="531.70" width="75.20" height="52.10" fill="rgb(255,250,250)" stroke="none" stroke-width="0"/>
<rect x="1280.80" y="583.40" width="75.20" height="52.10" fill="rgb(128,128,255)" stroke="none" stroke-width="0"/>
<rect x="1355.60" y="583.40" width="75.20" height="52.10" fill="rgb(128,128,255)" stroke="none" stroke-width="0"/>
<rect x="1430.40" y="583.40" width="75.10" height="52.10" fill="rgb(135,135,255)" stroke="none" stroke-width="0"/>
<rect x="1505.10" y="583.40" width="75.20" height="52.10" fill="rgb(255,170,170)" stroke="none" stroke-width="0"/>
<rect x="1579.90" y="583.40" width="75.20" height="52.10" fill="rgb(255,155,155)" stroke="none" stroke-width="0"/>
<rect x="1654.70" y="583.40" width="75.20" height="52.10" fill="rgb(255,120,120)" stroke="none" stroke-width="0"/>
<rect x="1729.50" y="583.40" width="75.20" height="52.10" fill="rgb(255,225,225)" stroke="none" stroke-width="0"/>
<rect x="1804.30" y="583.40" width="75.10" height="52.10" fill="rgb(255,248,248)" stroke="none" stroke-width="0"/>
<rect x="1879.00" y="583.40" width="75.20" height="52.10" fill="rgb(255,245,245)" stroke="none" stroke-width="0"/>
<rect x="1280.80" y="635.10" width="75.20" height="52.10" fill="rgb(150,150,255)" stroke="none" stroke-width="0"/>
<rect x="1355.60" y="635.10" width="75.20" height="52.10" fill="rgb(158,158,255)" stroke="none" stroke-width="0"/>
<rect x="1430.40" y="635.10" width="75.10" height="52.10" fill="rgb(162,162,255)" stroke="none" stroke-width="0"/>
<rect x="1505.10" y="635.10" width="75.20" height="52.10" fill="rgb(255,215,215)" stroke="none" stroke-width="0"/>
<rect x="1579.90" y="635.10" width="75.20" height="52.10" fill="rgb(255,145,145)" stroke="none" stroke-width="0"/>
<rect x="1654.70" y="635.10" width="75.20" height="52.10" fill="rgb(255,52,52)" stroke="none" stroke-width="0"/>
<rect x="1729.50" y="635.10" width="75.20" height="52.10" fill="rgb(248,248,255)" stroke="none" stroke-width="0"/>
<rect x="1804.30" y="635.10" width="75.10" height="52.10" fill="rgb(230,230,255)" stroke="none" stroke-width="0"/>
<rect x="1879.00" y="635.10" width="75.20" height="52.10" fill="rgb(242,242,255)" stroke="none" stroke-width="0"/>
<rect x="1280.80" y="686.80" width="75.20" height="52.10" fill="rgb(128,128,255)" stroke="none" stroke-width="0"/>
<rect x="1355.60" y="686.80" width="75.20" height="52.10" fill="rgb(128,128,255)" stroke="none" stroke-width="0"/>
<rect x="1430.40" y="686.80" width="75.10" height="52.10" fill="rgb(128,128,255)" stroke="none" stroke-width="0"/>
<rect x="1505.10" y="686.80" width="75.20" height="52.10" fill="rgb(255,125,125)" stroke="none" stroke-width="0"/>
<rect x="1579.90" y="686.80" width="75.20" height="52.10" fill="rgb(255,140,140)" stroke="none" stroke-width="0"/>
<rect x="1654.70" y="686.80" width="75.20" height="52.10" fill="rgb(255,178,178)" stroke="none" stroke-width="0"/>
<rect x="1729.50" y="686.80" width="75.20" height="52.10" fill="rgb(255,253,253)" stroke="none" stroke-width="0"/>
<rect x="1804.30" y="686.80" width="75.10" height="52.10" fill="rgb(255,235,235)" stroke="none" stroke-width="0"/>
<rect x="1879.00" y="686.80" width="75.20" height="52.10" fill="rgb(255,210,210)" stroke="none" stroke-width="0"/>
<rect x="1280.80" y="738.50" width="75.20" height="52.20" fill="rgb(128,128,255)" stroke="none" stroke-width="0"/>
<rect x="1355.60" y="738.50" width="75.20" height="52.20" fill="rgb(135,135,255)" stroke="none" stroke-width="0"/>
<rect x="1430.40" y="738.50" width="75.10" height="52.20" fill="rgb(135,135,255)" stroke="none" stroke-width="0"/>
<rect x="1505.10" y="738.50" width="75.20" height="52.20" fill="rgb(255,128,128)" stroke="none" stroke-width="0"/>
<rect x="1579.90" y="738.50" width="75.20" height="52.20" fill="rgb(255,155,155)" stroke="none" stroke-width="0"/>
<rect x="1654.70" y="738.50" width="75.20" height="52.20" fill="rgb(255,150,150)" stroke="none" stroke-width="0"/>
<rect x="1729.50" y="738.50" width="75.20" height="52.20" fill="rgb(255,225,225)" stroke="none" stroke-width="0"/>
<rect x="1804.30" y="738.50" width="75.10" height="52.20" fill="rgb(255,253,253)" stroke="none" stroke-width="0"/>
<rect x="1879.00" y="738.50" width="75.20" height="52.20" fill="rgb(255,253,253)" stroke="none" stroke-width="0"/>
<rect x="1280.80" y="790.30" width="75.20" height="52.10" fill="rgb(140,140,255)" stroke="none" stroke-width="0"/>
<rect x="1355.60" y="790.30" width="75.20" height="52.10" fill="rgb(145,145,255)" stroke="none" stroke-width="0"/>
<rect x="1430.40" y="790.30" width="75.10" height="52.10" fill="rgb(150,150,255)" stroke="none" stroke-width="0"/>
<rect x="1505.10" y="790.30" width="75.20" height="52.10" fill="rgb(255,170,170)" stroke="none" stroke-width="0"/>
<rect x="1579.90" y="790.30" width="75.20" height="52.10" fill="rgb(255,150,150)" stroke="none" stroke-width="0"/>
<rect x="1654.70" y="790.30" width="75.20" height="52.10" fill="rgb(255,85,85)" stroke="none" stroke-width="0"/>
<rect x="1729.50" y="790.30" width="75.20" height="52.10" fill="rgb(246,246,255)" stroke="none" stroke-width="0"/>
<rect x="1804.30" y="790.30" width="75.10" height="52.10" fill="rgb(242,242,255)" stroke="none" stroke-width="0"/>
<rect x="1879.00" y="790.30" width="75.20" height="52.10" fill="rgb(246,246,255)" stroke="none" stroke-width="0"/>
<rect x="1280.80" y="842.00" width="75.20" height="52.10" fill="rgb(140,140,255)" stroke="none" stroke-width="0"/>
<rect x="1355.60" y="842.00" width="75.20" height="52.10" fill="rgb(140,140,255)" stroke="none" stroke-width="0"/>
<rect x="1430.40" y="842.00" width="75.10" height="52.10" fill="rgb(145,145,255)" stroke="none" stroke-width="0"/>
<rect x="1505.10" y="842.00" width="75.20" height="52.10" fill="rgb(255,112,112)" stroke="none" stroke-width="0"/>
<rect x="1579.90" y="842.00" width="75.20" height="52.10" fill="rgb(255,105,105)" stroke="none" stroke-width="0"/>
<rect x="1654.70" y="842.00" width="75.20" height="52.10" fill="rgb(255,190,190)" stroke="none" stroke-width="0"/>
<rect x="1729.50" y="842.00" width="75.20" height="52.10" fill="rgb(246,246,255)" stroke="none" stroke-width="0"/>
<rect x="1804.30" y="842.00" width="75.10" height="52.10" fill="rgb(242,242,255)" stroke="none" stroke-width="0"/>
<rect x="1879.00" y="842.00" width="75.20" height="52.10" fill="rgb(255,248,248)" stroke="none" stroke-width="0"/>
<rect x="1280.80" y="893.70" width="75.20" height="52.10" fill="rgb(145,145,255)" stroke="none" stroke-width="0"/>
<rect x="1355.60" y="893.70" width="75.20" height="52.10" fill="rgb(150,150,255)" stroke="none" stroke-width="0"/>
<rect x="1430.40" y="893.70" width="75.10" height="52.10" fill="rgb(162,162,255)" stroke="none" stroke-width="0"/>
<rect x="1505.10" y="893.70" width="75.20" height="52.10" fill="rgb(255,122,122)" stroke="none" stroke-width="0"/>
<rect x="1579.90" y="893.70" width="75.20" height="52.10" fill="rgb(255,82,82)" stroke="none" stroke-width="0"/>
<rect x="1654.70" y="893.70" width="75.20" height="52.10" fill="rgb(255,190,190)" stroke="none" stroke-width="0"/>
<rect x="1729.50" y="893.70" width="75.20" height="52.10" fill="rgb(222,222,255)" stroke="none" stroke-width="0"/>
<rect x="1804.30" y="893.70" width="75.10" height="52.10" fill="rgb(238,238,255)" stroke="none" stroke-width="0"/>
<rect x="1879.00" y="893.70" width="75.20" height="52.10" fill="rgb(255,252,252)" stroke="none" stroke-width="0"/>
<rect x="1280.80" y="945.40" width="75.20" height="52.10" fill="rgb(150,150,255)" stroke="none" stroke-width="0"/>
<rect x="1355.60" y="945.40" width="75.20" height="52.10" fill="rgb(150,150,255)" stroke="none" stroke-width="0"/>
<rect x="1430.40" y="945.40" width="75.10" height="52.10" fill="rgb(150,150,255)" stroke="none" stroke-width="0"/>
<rect x="1505.10" y="945.40" width="75.20" height="52.10" fill="rgb(255,160,160)" stroke="none" stroke-width="0"/>
<rect x="1579.90" y="945.40" width="75.20" height="52.10" fill="rgb(255,130,130)" stroke="none" stroke-width="0"/>
<rect x="1654.70" y="945.40" width="75.20" height="52.10" fill="rgb(255,95,95)" stroke="none" stroke-width="0"/>
<rect x="1729.50" y="945.40" width="75.20" height="52.10" fill="rgb(255,254,254)" stroke="none" stroke-width="0"/>
<rect x="1804.30" y="945.40" width="75.10" height="52.10" fill="rgb(215,215,255)" stroke="none" stroke-width="0"/>
<rect x="1879.00" y="945.40" width="75.20" height="52.10" fill="rgb(236,236,255)" stroke="none" stroke-width="0"/>
<rect x="1280.80" y="997.10" width="75.20" height="52.10" fill="rgb(166,166,255)" stroke="none" stroke-width="0"/>
<rect x="1355.60" y="997.10" width="75.20" height="52.10" fill="rgb(166,166,255)" stroke="none" stroke-width="0"/>
<rect x="1430.40" y="997.10" width="75.10" height="52.10" fill="rgb(166,166,255)" stroke="none" stroke-width="0"/>
<rect x="1505.10" y="997.10" width="75.20" height="52.10" fill="rgb(255,120,120)" stroke="none" stroke-width="0"/>
<rect x="1579.90" y="997.10" width="75.20" height="52.10" fill="rgb(255,125,125)" stroke="none" stroke-width="0"/>
<rect x="1654.70" y="997.10" width="75.20" height="52.10" fill="rgb(242,242,255)" stroke="none" stroke-width="0"/>
<rect x="1729.50" y="997.10" width="75.20" height="52.10" fill="rgb(166,166,255)" stroke="none" stroke-width="0"/>
<rect x="1804.30" y="997.10" width="75.10" height="52.10" fill="rgb(236,236,255)" stroke="none" stroke-width="0"/>
<rect x="1879.00" y="997.10" width="75.20" height="52.10" fill="rgb(255,128,128)" stroke="none" stroke-width="0"/>
<rect x="1280.80" y="1048.80" width="75.20" height="52.10" fill="rgb(120,120,255)" stroke="none" stroke-width="0"/>
<rect x="1355.60" y="1048.80" width="75.20" height="52.10" fill="rgb(135,135,255)" stroke="none" stroke-width="0"/>
<rect x="1430.40" y="1048.80" width="75.10" height="52.10" fill="rgb(135,135,255)" stroke="none" stroke-width="0"/>
<rect x="1505.10" y="1048.80" width="75.20" height="52.10" fill="rgb(255,225,225)" stroke="none" stroke-width="0"/>
<rect x="1579.90" y="1048.80" width="75.20" height="52.10" fill="rgb(255,178,178)" stroke="none" stroke-width="0"/>
<rect x="1654.70" y="1048.80" width="75.20" height="52.10" fill="rgb(255,98,98)" stroke="none" stroke-width="0"/>
<rect x="1729.50" y="1048.80" width="75.20" height="52.10" fill="rgb(255,212,212)" stroke="none" stroke-width="0"/>
<rect x="1804.30" y="1048.80" width="75.10" height="52.10" fill="rgb(255,212,212)" stroke="none" stroke-width="0"/>
<rect x="1879.00" y="1048.80" width="75.20" height="52.10" fill="rgb(255,218,218)" stroke="none" stroke-width="0"/>
<rect x="1280.80" y="1100.50" width="75.20" height="52.10" fill="rgb(120,120,255)" stroke="none" stroke-width="0"/>
<rect x="1355.60" y="1100.50" width="75.20" height="52.10" fill="rgb(120,120,255)" stroke="none" stroke-width="0"/>
<rect x="1430.40" y="1100.50" width="75.10" height="52.10" fill="rgb(128,128,255)" stroke="none" stroke-width="0"/>
<rect x="1505.10" y="1100.50" width="75.20" height="52.10" fill="rgb(255,162,162)" stroke="none" stroke-width="0"/>
<rect x="1579.90" y="1100.50" width="75.20" height="52.10" fill="rgb(255,178,178)" stroke="none" stroke-width="0"/>
<rect x="1654.70" y="1100.50" width="75.20" height="52.10" fill="rgb(255,205,205)" stroke="none" stroke-width="0"/>
<rect x="1729.50" y="1100.50" width="75.20" height="52.10" fill="rgb(255,162,162)" stroke="none" stroke-width="0"/>
<rect x="1804.30" y="1100.50" width="75.10" height="52.10" fill="rgb(255,220,220)" stroke="none" stroke-width="0"/>
<rect x="1879.00" y="1100.50" width="75.20" height="52.10" fill="rgb(255,208,208)" stroke="none" stroke-width="0"/>
<rect x="1280.80" y="1152.20" width="75.20" height="52.10" fill="rgb(115,115,255)" stroke="none" stroke-width="0"/>
<rect x="1355.60" y="1152.20" width="75.20" height="52.10" fill="rgb(115,115,255)" stroke="none" stroke-width="0"/>
<rect x="1430.40" y="1152.20" width="75.10" height="52.10" fill="rgb(135,135,255)" stroke="none" stroke-width="0"/>
<rect x="1505.10" y="1152.20" width="75.20" height="52.10" fill="rgb(255,165,165)" stroke="none" stroke-width="0"/>
<rect x="1579.90" y="1152.20" width="75.20" height="52.10" fill="rgb(255,192,192)" stroke="none" stroke-width="0"/>
<rect x="1654.70" y="1152.20" width="75.20" height="52.10" fill="rgb(255,162,162)" stroke="none" stroke-width="0"/>
<rect x="1729.50" y="1152.20" width="75.20" height="52.10" fill="rgb(255,205,205)" stroke="none" stroke-width="0"/>
<rect x="1804.30" y="1152.20" width="75.10" height="52.10" fill="rgb(255,208,208)" stroke="none" stroke-width="0"/>
<rect x="1879.00" y="1152.20" width="75.20" height="52.10" fill="rgb(255,208,208)" stroke="none" stroke-width="0"/>
<rect x="1280.80" y="1203.90" width="75.20" height="52.10" fill="rgb(88,88,255)" stroke="none" stroke-width="0"/>
<rect x="1355.60" y="1203.90" width="75.20" height="52.10" fill="rgb(135,135,255)" stroke="none" stroke-width="0"/>
<rect x="1430.40" y="1203.90" width="75.10" height="52.10" fill="rgb(180,180,255)" stroke="none" stroke-width="0"/>
<rect x="1505.10" y="1203.90" width="75.20" height="52.10" fill="rgb(242,242,255)" stroke="none" stroke-width="0"/>
<rect x="1579.90" y="1203.90" width="75.20" height="52.10" fill="rgb(255,190,190)" stroke="none" stroke-width="0"/>
<rect x="1654.70" y="1203.90" width="75.20" height="52.10" fill="rgb(255,102,102)" stroke="none" stroke-width="0"/>
<rect x="1729.50" y="1203.90" width="75.20" height="52.10" fill="rgb(255,218,218)" stroke="none" stroke-width="0"/>
<rect x="1804.30" y="1203.90" width="75.10" height="52.10" fill="rgb(255,180,180)" stroke="none" stroke-width="0"/>
<rect x="1879.00" y="1203.90" width="75.20" height="52.10" fill="rgb(255,212,212)" stroke="none" stroke-width="0"/>
<rect x="1280.80" y="1255.60" width="75.20" height="52.10" fill="rgb(200,200,255)" stroke="none" stroke-width="0"/>
<rect x="1355.60" y="1255.60" width="75.20" height="52.10" fill="rgb(255,0,0)" stroke="none" stroke-width="0"/>
<rect x="1430.40" y="1255.60" width="75.10" height="52.10" fill="rgb(255,228,228)" stroke="none" stroke-width="0"/>
<rect x="1505.10" y="1255.60" width="75.20" height="52.10" fill="rgb(200,200,255)" stroke="none" stroke-width="0"/>
<rect x="1579.90" y="1255.60" width="75.20" height="52.10" fill="rgb(200,200,255)" stroke="none" stroke-width="0"/>
<rect x="1654.70" y="1255.60" width="75.20" height="52.10" fill="rgb(200,200,255)" stroke="none" stroke-width="0"/>
<rect x="1729.50" y="1255.60" width="75.20" height="52.10" fill="rgb(255,232,232)" stroke="none" stroke-width="0"/>
<rect x="1804.30" y="1255.60" width="75.10" height="52.10" fill="rgb(200,200,255)" stroke="none" stroke-width="0"/>
<rect x="1879.00" y="1255.60" width="75.20" height="52.10" fill="rgb(200,200,255)" stroke="none" stroke-width="0"/>
<rect x="1280.80" y="1307.30" width="75.20" height="52.10" fill="rgb(255,125,125)" stroke="none" stroke-width="0"/>
<rect x="1355.60" y="1307.30" width="75.20" height="52.10" fill="rgb(255,125,125)" stroke="none" stroke-width="0"/>
<rect x="1430.40" y="1307.30" width="75.10" height="52.10" fill="rgb(255,115,115)" stroke="none" stroke-width="0"/>
<rect x="1505.10" y="1307.30" width="75.20" height="52.10" fill="rgb(192,192,255)" stroke="none" stroke-width="0"/>
<rect x="1579.90" y="1307.30" width="75.20" height="52.10" fill="rgb(185,185,255)" stroke="none" stroke-width="0"/>
<rect x="1654.70" y="1307.30" width="75.20" height="52.10" fill="rgb(185,185,255)" stroke="none" stroke-width="0"/>
<rect x="1729.50" y="1307.30" width="75.20" height="52.10" fill="rgb(170,170,255)" stroke="none" stroke-width="0"/>
<rect x="1804.30" y="1307.30" width="75.10" height="52.10" fill="rgb(182,182,255)" stroke="none" stroke-width="0"/>
<rect x="1879.00" y="1307.30" width="75.20" height="52.10" fill="rgb(222,222,255)" stroke="none" stroke-width="0"/>
<rect x="1280.80" y="1359.00" width="75.20" height="52.10" fill="rgb(200,200,255)" stroke="none" stroke-width="0"/>
<rect x="1355.60" y="1359.00" width="75.20" height="52.10" fill="rgb(220,220,255)" stroke="none" stroke-width="0"/>
<rect x="1430.40" y="1359.00" width="75.10" height="52.10" fill="rgb(200,200,255)" stroke="none" stroke-width="0"/>
<rect x="1505.10" y="1359.00" width="75.20" height="52.10" fill="rgb(185,185,255)" stroke="none" stroke-width="0"/>
<rect x="1579.90" y="1359.00" width="75.20" height="52.10" fill="rgb(255,92,92)" stroke="none" stroke-width="0"/>
<rect x="1654.70" y="1359.00" width="75.20" height="52.10" fill="rgb(220,220,255)" stroke="none" stroke-width="0"/>
<rect x="1729.50" y="1359.00" width="75.20" height="52.10" fill="rgb(166,166,255)" stroke="none" stroke-width="0"/>
<rect x="1804.30" y="1359.00" width="75.10" height="52.10" fill="rgb(255,62,62)" stroke="none" stroke-width="0"/>
<rect x="1879.00" y="1359.00" width="75.20" height="52.10" fill="rgb(250,250,255)" stroke="none" stroke-width="0"/>
<rect x="1280.80" y="1410.70" width="75.20" height="52.10" fill="rgb(155,155,255)" stroke="none" stroke-width="0"/>
<rect x="1355.60" y="1410.70" width="75.20" height="52.10" fill="rgb(125,125,255)" stroke="none" stroke-width="0"/>
<rect x="1430.40" y="1410.70" width="75.10" height="52.10" fill="rgb(170,170,255)" stroke="none" stroke-width="0"/>
<rect x="1505.10" y="1410.70" width="75.20" height="52.10" fill="rgb(255,95,95)" stroke="none" stroke-width="0"/>
<rect x="1579.90" y="1410.70" width="75.20" height="52.10" fill="rgb(255,220,220)" stroke="none" stroke-width="0"/>
<rect x="1654.70" y="1410.70" width="75.20" height="52.10" fill="rgb(192,192,255)" stroke="none" stroke-width="0"/>
<rect x="1729.50" y="1410.70" width="75.20" height="52.10" fill="rgb(255,120,120)" stroke="none" stroke-width="0"/>
<rect x="1804.30" y="1410.70" width="75.10" height="52.10" fill="rgb(255,248,248)" stroke="none" stroke-width="0"/>
<rect x="1879.00" y="1410.70" width="75.20" height="52.10" fill="rgb(255,222,222)" stroke="none" stroke-width="0"/>
<rect x="1280.80" y="1462.40" width="75.20" height="52.10" fill="rgb(232,232,255)" stroke="none" stroke-width="0"/>
<rect x="1355.60" y="1462.40" width="75.20" height="52.10" fill="rgb(255,228,228)" stroke="none" stroke-width="0"/>
<rect x="1430.40" y="1462.40" width="75.10" height="52.10" fill="rgb(255,150,150)" stroke="none" stroke-width="0"/>
<rect x="1505.10" y="1462.40" width="75.20" height="52.10" fill="rgb(162,162,255)" stroke="none" stroke-width="0"/>
<rect x="1579.90" y="1462.40" width="75.20" height="52.10" fill="rgb(255,253,253)" stroke="none" stroke-width="0"/>
<rect x="1654.70" y="1462.40" width="75.20" height="52.10" fill="rgb(222,222,255)" stroke="none" stroke-width="0"/>
<rect x="1729.50" y="1462.40" width="75.20" height="52.10" fill="rgb(255,48,48)" stroke="none" stroke-width="0"/>
<rect x="1804.30" y="1462.40" width="75.10" height="52.10" fill="rgb(150,150,255)" stroke="none" stroke-width="0"/>
<rect x="1879.00" y="1462.40" width="75.20" height="52.10" fill="rgb(166,166,255)" stroke="none" stroke-width="0"/>
<rect x="1280.80" y="1514.10" width="75.20" height="52.10" fill="rgb(208,208,255)" stroke="none" stroke-width="0"/>
<rect x="1355.60" y="1514.10" width="75.20" height="52.10" fill="rgb(255,228,228)" stroke="none" stroke-width="0"/>
<rect x="1430.40" y="1514.10" width="75.10" height="52.10" fill="rgb(255,228,228)" stroke="none" stroke-width="0"/>
<rect x="1505.10" y="1514.10" width="75.20" height="52.10" fill="rgb(40,40,255)" stroke="none" stroke-width="0"/>
<rect x="1579.90" y="1514.10" width="75.20" height="52.10" fill="rgb(215,215,255)" stroke="none" stroke-width="0"/>
<rect x="1654.70" y="1514.10" width="75.20" height="52.10" fill="rgb(255,92,92)" stroke="none" stroke-width="0"/>
<rect x="1729.50" y="1514.10" width="75.20" height="52.10" fill="rgb(255,162,162)" stroke="none" stroke-width="0"/>
<rect x="1804.30" y="1514.10" width="75.10" height="52.10" fill="rgb(222,222,255)" stroke="none" stroke-width="0"/>
<rect x="1879.00" y="1514.10" width="75.20" height="52.10" fill="rgb(255,235,235)" stroke="none" stroke-width="0"/>
<rect x="1280.80" y="1565.80" width="75.20" height="52.10" fill="rgb(178,178,255)" stroke="none" stroke-width="0"/>
<rect x="1355.60" y="1565.80" width="75.20" height="52.10" fill="rgb(222,222,255)" stroke="none" stroke-width="0"/>
<rect x="1430.40" y="1565.80" width="75.10" height="52.10" fill="rgb(212,212,255)" stroke="none" stroke-width="0"/>
<rect x="1505.10" y="1565.80" width="75.20" height="52.10" fill="rgb(140,140,255)" stroke="none" stroke-width="0"/>
<rect x="1579.90" y="1565.80" width="75.20" height="52.10" fill="rgb(255,254,254)" stroke="none" stroke-width="0"/>
<rect x="1654.70" y="1565.80" width="75.20" height="52.10" fill="rgb(255,120,120)" stroke="none" stroke-width="0"/>
<rect x="1729.50" y="1565.80" width="75.20" height="52.10" fill="rgb(255,58,58)" stroke="none" stroke-width="0"/>
<rect x="1804.30" y="1565.80" width="75.10" height="52.10" fill="rgb(255,225,225)" stroke="none" stroke-width="0"/>
<rect x="1879.00" y="1565.80" width="75.20" height="52.10" fill="rgb(170,170,255)" stroke="none" stroke-width="0"/>
<rect x="1280.80" y="1617.50" width="75.20" height="52.10" fill="rgb(125,125,255)" stroke="none" stroke-width="0"/>
<rect x="1355.60" y="1617.50" width="75.20" height="52.10" fill="rgb(122,122,255)" stroke="none" stroke-width="0"/>
<rect x="1430.40" y="1617.50" width="75.10" height="52.10" fill="rgb(160,160,255)" stroke="none" stroke-width="0"/>
<rect x="1505.10" y="1617.50" width="75.20" height="52.10" fill="rgb(255,210,210)" stroke="none" stroke-width="0"/>
<rect x="1579.90" y="1617.50" width="75.20" height="52.10" fill="rgb(255,215,215)" stroke="none" stroke-width="0"/>
<rect x="1654.70" y="1617.50" width="75.20" height="52.10" fill="rgb(255,225,225)" stroke="none" stroke-width="0"/>
<rect x="1729.50" y="1617.50" width="75.20" height="52.10" fill="rgb(255,75,75)" stroke="none" stroke-width="0"/>
<rect x="1804.30" y="1617.50" width="75.10" height="52.10" fill="rgb(255,225,225)" stroke="none" stroke-width="0"/>
<rect x="1879.00" y="1617.50" width="75.20" height="52.10" fill="rgb(255,210,210)" stroke="none" stroke-width="0"/>
<rect x="1280.80" y="1669.20" width="75.20" height="52.10" fill="rgb(238,238,255)" stroke="none" stroke-width="0"/>
<rect x="1355.60" y="1669.20" width="75.20" height="52.10" fill="rgb(255,235,235)" stroke="none" stroke-width="0"/>
<rect x="1430.40" y="1669.20" width="75.10" height="52.10" fill="rgb(255,230,230)" stroke="none" stroke-width="0"/>
<rect x="1505.10" y="1669.20" width="75.20" height="52.10" fill="rgb(32,32,255)" stroke="none" stroke-width="0"/>
<rect x="1579.90" y="1669.20" width="75.20" height="52.10" fill="rgb(178,178,255)" stroke="none" stroke-width="0"/>
<rect x="1654.70" y="1669.20" width="75.20" height="52.10" fill="rgb(255,180,180)" stroke="none" stroke-width="0"/>
<rect x="1729.50" y="1669.20" width="75.20" height="52.10" fill="rgb(255,108,108)" stroke="none" stroke-width="0"/>
<rect x="1804.30" y="1669.20" width="75.10" height="52.10" fill="rgb(255,254,254)" stroke="none" stroke-width="0"/>
<rect x="1879.00" y="1669.20" width="75.20" height="52.10" fill="rgb(255,200,200)" stroke="none" stroke-width="0"/>
<rect x="1280.80" y="1720.90" width="75.20" height="52.10" fill="rgb(98,98,255)" stroke="none" stroke-width="0"/>
<rect x="1355.60" y="1720.90" width="75.20" height="52.10" fill="rgb(150,150,255)" stroke="none" stroke-width="0"/>
<rect x="1430.40" y="1720.90" width="75.10" height="52.10" fill="rgb(160,160,255)" stroke="none" stroke-width="0"/>
<rect x="1505.10" y="1720.90" width="75.20" height="52.10" fill="rgb(255,254,254)" stroke="none" stroke-width="0"/>
<rect x="1579.90" y="1720.90" width="75.20" height="52.10" fill="rgb(255,220,220)" stroke="none" stroke-width="0"/>
<rect x="1654.70" y="1720.90" width="75.20" height="52.10" fill="rgb(255,252,252)" stroke="none" stroke-width="0"/>
<rect x="1729.50" y="1720.90" width="75.20" height="52.10" fill="rgb(255,102,102)" stroke="none" stroke-width="0"/>
<rect x="1804.30" y="1720.90" width="75.10" height="52.10" fill="rgb(255,160,160)" stroke="none" stroke-width="0"/>
<rect x="1879.00" y="1720.90" width="75.20" height="52.10" fill="rgb(255,175,175)" stroke="none" stroke-width="0"/>
<rect x="1280.80" y="1772.60" width="75.20" height="52.20" fill="rgb(255,218,218)" stroke="none" stroke-width="0"/>
<rect x="1355.60" y="1772.60" width="75.20" height="52.20" fill="rgb(255,232,232)" stroke="none" stroke-width="0"/>
<rect x="1430.40" y="1772.60" width="75.10" height="52.20" fill="rgb(255,135,135)" stroke="none" stroke-width="0"/>
<rect x="1505.10" y="1772.60" width="75.20" height="52.20" fill="rgb(45,45,255)" stroke="none" stroke-width="0"/>
<rect x="1579.90" y="1772.60" width="75.20" height="52.20" fill="rgb(208,208,255)" stroke="none" stroke-width="0"/>
<rect x="1654.70" y="1772.60" width="75.20" height="52.20" fill="rgb(160,160,255)" stroke="none" stroke-width="0"/>
<rect x="1729.50" y="1772.60" width="75.20" height="52.20" fill="rgb(255,160,160)" stroke="none" stroke-width="0"/>
<rect x="1804.30" y="1772.60" width="75.10" height="52.20" fill="rgb(248,248,255)" stroke="none" stroke-width="0"/>
<rect x="1879.00" y="1772.60" width="75.20" height="52.20" fill="rgb(255,170,170)" stroke="none" stroke-width="0"/>
</g>
<text transform="translate(1962.3 261.95) scale(1 1)" font-family="'Liberation Sans', Arial, Helvetica, sans-serif" font-size="40" fill="#000">Irf8</text>
<text transform="translate(1962.3 313.66) scale(1 1)" font-family="'Liberation Sans', Arial, Helvetica, sans-serif" font-size="40" fill="#000">Stat1</text>
<text transform="translate(1962.3 365.36) scale(1 1)" font-family="'Liberation Sans', Arial, Helvetica, sans-serif" font-size="40" fill="#000">Socs1</text>
<text transform="translate(1962.3 417.07) scale(1 1)" font-family="'Liberation Sans', Arial, Helvetica, sans-serif" font-size="40" fill="#000">Il1b</text>
<text transform="translate(1962.3 468.77) scale(1 1)" font-family="'Liberation Sans', Arial, Helvetica, sans-serif" font-size="40" fill="#000">Psmb9</text>
<text transform="translate(1962.3 520.48) scale(1 1)" font-family="'Liberation Sans', Arial, Helvetica, sans-serif" font-size="40" fill="#000">Tap1</text>
<text transform="translate(1962.3 572.18) scale(1 1)" font-family="'Liberation Sans', Arial, Helvetica, sans-serif" font-size="40" fill="#000">Irf1</text>
<text transform="translate(1962.3 623.89) scale(1 1)" font-family="'Liberation Sans', Arial, Helvetica, sans-serif" font-size="40" fill="#000">Stat2</text>
<text transform="translate(1962.3 675.59) scale(1 1)" font-family="'Liberation Sans', Arial, Helvetica, sans-serif" font-size="40" fill="#000">Cybb</text>
<text transform="translate(1962.3 727.30) scale(1 1)" font-family="'Liberation Sans', Arial, Helvetica, sans-serif" font-size="40" fill="#000">Isg15</text>
<text transform="translate(1962.3 779.00) scale(1 1)" font-family="'Liberation Sans', Arial, Helvetica, sans-serif" font-size="40" fill="#000">Cxcl10</text>
<text transform="translate(1962.3 830.71) scale(1 1)" font-family="'Liberation Sans', Arial, Helvetica, sans-serif" font-size="40" fill="#000">Ifit2</text>
<text transform="translate(1962.3 882.41) scale(1 1)" font-family="'Liberation Sans', Arial, Helvetica, sans-serif" font-size="40" fill="#000">Ifnb1</text>
<text transform="translate(1962.3 934.12) scale(1 1)" font-family="'Liberation Sans', Arial, Helvetica, sans-serif" font-size="40" fill="#000">Gbp2b</text>
<text transform="translate(1962.3 985.82) scale(1 1)" font-family="'Liberation Sans', Arial, Helvetica, sans-serif" font-size="40" fill="#000">Nos2</text>
<text transform="translate(1962.3 1037.53) scale(1 1)" font-family="'Liberation Sans', Arial, Helvetica, sans-serif" font-size="40" fill="#000">Cxcl9</text>
<text transform="translate(1962.3 1089.23) scale(1 1)" font-family="'Liberation Sans', Arial, Helvetica, sans-serif" font-size="40" fill="#000">Eif2ak2</text>
<text transform="translate(1962.3 1140.94) scale(1 1)" font-family="'Liberation Sans', Arial, Helvetica, sans-serif" font-size="40" fill="#000">Socs3</text>
<text transform="translate(1962.3 1192.64) scale(1 1)" font-family="'Liberation Sans', Arial, Helvetica, sans-serif" font-size="40" fill="#000">Irf9</text>
<text transform="translate(1962.3 1244.35) scale(1 1)" font-family="'Liberation Sans', Arial, Helvetica, sans-serif" font-size="40" fill="#000">Jak2</text>
<text transform="translate(1962.3 1296.05) scale(1 1)" font-family="'Liberation Sans', Arial, Helvetica, sans-serif" font-size="40" fill="#000">Ciita</text>
<text transform="translate(1962.3 1347.76) scale(1 1)" font-family="'Liberation Sans', Arial, Helvetica, sans-serif" font-size="40" fill="#000">Ifngr1</text>
<text transform="translate(1962.3 1399.46) scale(1 1)" font-family="'Liberation Sans', Arial, Helvetica, sans-serif" font-size="40" fill="#000">H4c14</text>
<text transform="translate(1962.3 1451.17) scale(1 1)" font-family="'Liberation Sans', Arial, Helvetica, sans-serif" font-size="40" fill="#000">Spi1</text>
<text transform="translate(1962.3 1502.87) scale(1 1)" font-family="'Liberation Sans', Arial, Helvetica, sans-serif" font-size="40" fill="#000">Prkcd</text>
<text transform="translate(1962.3 1554.58) scale(1 1)" font-family="'Liberation Sans', Arial, Helvetica, sans-serif" font-size="40" fill="#000">Jak1</text>
<text transform="translate(1962.3 1606.28) scale(1 1)" font-family="'Liberation Sans', Arial, Helvetica, sans-serif" font-size="40" fill="#000">Irf2</text>
<text transform="translate(1962.3 1657.99) scale(1 1)" font-family="'Liberation Sans', Arial, Helvetica, sans-serif" font-size="40" fill="#000">Icam1</text>
<text transform="translate(1962.3 1709.69) scale(1 1)" font-family="'Liberation Sans', Arial, Helvetica, sans-serif" font-size="40" fill="#000">Ptpn11</text>
<text transform="translate(1962.3 1761.40) scale(1 1)" font-family="'Liberation Sans', Arial, Helvetica, sans-serif" font-size="40" fill="#000">Ifngr2</text>
<text transform="translate(1962.3 1813.10) scale(1 1)" font-family="'Liberation Sans', Arial, Helvetica, sans-serif" font-size="40" fill="#000">Irf4</text>
<text x="1962.50" y="209.40" font-family="'Liberation Sans', Arial, Helvetica, sans-serif" font-size="30.4" font-weight="bold" font-style="normal" text-anchor="start" fill="#000">Group</text>
<text transform="translate(1312.59 1856.6) scale(1.15 1) rotate(90)" font-family="'Liberation Sans', Arial, Helvetica, sans-serif" font-size="38.2" fill="#000">C1</text>
<text transform="translate(1387.37 1856.6) scale(1.15 1) rotate(90)" font-family="'Liberation Sans', Arial, Helvetica, sans-serif" font-size="38.2" fill="#000">C2</text>
<text transform="translate(1462.15 1856.6) scale(1.15 1) rotate(90)" font-family="'Liberation Sans', Arial, Helvetica, sans-serif" font-size="38.2" fill="#000">C3</text>
<text transform="translate(1536.93 1856.6) scale(1.15 1) rotate(90)" font-family="'Liberation Sans', Arial, Helvetica, sans-serif" font-size="38.2" fill="#000">Pg1</text>
<text transform="translate(1611.71 1856.6) scale(1.15 1) rotate(90)" font-family="'Liberation Sans', Arial, Helvetica, sans-serif" font-size="38.2" fill="#000">Pg2</text>
<text transform="translate(1686.49 1856.6) scale(1.15 1) rotate(90)" font-family="'Liberation Sans', Arial, Helvetica, sans-serif" font-size="38.2" fill="#000">Pg3</text>
<text transform="translate(1761.27 1856.6) scale(1.15 1) rotate(90)" font-family="'Liberation Sans', Arial, Helvetica, sans-serif" font-size="38.2" fill="#000">CLH1</text>
<text transform="translate(1836.05 1856.6) scale(1.15 1) rotate(90)" font-family="'Liberation Sans', Arial, Helvetica, sans-serif" font-size="38.2" fill="#000">CLH2</text>
<text transform="translate(1910.83 1856.6) scale(1.15 1) rotate(90)" font-family="'Liberation Sans', Arial, Helvetica, sans-serif" font-size="38.2" fill="#000">CLH3</text>
<defs><linearGradient id="hm-scale" x1="0" y1="0" x2="0" y2="1"><stop offset="0" stop-color="#FF0000"/><stop offset="0.5" stop-color="#FFFFFF"/><stop offset="1" stop-color="#0000FF"/></linearGradient></defs>
<rect x="2116.30" y="180.70" width="25.70" height="377.80" fill="url(#hm-scale)" stroke="none" stroke-width="0"/>
<text x="2152.50" y="229.80" font-family="'Liberation Sans', Arial, Helvetica, sans-serif" font-size="27" font-weight="normal" font-style="normal" text-anchor="start" fill="#000">2</text>
<text x="2152.50" y="304.90" font-family="'Liberation Sans', Arial, Helvetica, sans-serif" font-size="27" font-weight="normal" font-style="normal" text-anchor="start" fill="#000">1</text>
<text x="2152.50" y="380.00" font-family="'Liberation Sans', Arial, Helvetica, sans-serif" font-size="27" font-weight="normal" font-style="normal" text-anchor="start" fill="#000">0</text>
<text x="2152.50" y="455.10" font-family="'Liberation Sans', Arial, Helvetica, sans-serif" font-size="27" font-weight="normal" font-style="normal" text-anchor="start" fill="#000">- 1</text>
<text x="2152.50" y="530.20" font-family="'Liberation Sans', Arial, Helvetica, sans-serif" font-size="27" font-weight="normal" font-style="normal" text-anchor="start" fill="#000">- 2</text>
<text x="2205.20" y="202.70" font-family="'Liberation Sans', Arial, Helvetica, sans-serif" font-size="30.4" font-weight="bold" font-style="normal" text-anchor="start" fill="#000">Group</text>
<rect x="2204.80" y="213.40" width="44.00" height="43.40" fill="#00D450" stroke="none" stroke-width="0" shape-rendering="crispEdges"/>
<text x="2258.60" y="245.80" font-family="'Liberation Sans', Arial, Helvetica, sans-serif" font-size="29.8" font-weight="normal" font-style="normal" text-anchor="start" fill="#000">C</text>
<rect x="2204.80" y="256.60" width="44.00" height="43.40" fill="#FC9288" stroke="none" stroke-width="0" shape-rendering="crispEdges"/>
<text x="2258.60" y="289.00" font-family="'Liberation Sans', Arial, Helvetica, sans-serif" font-size="29.8" font-weight="normal" font-style="normal" text-anchor="start" fill="#000">CCLH</text>
<rect x="2204.80" y="299.80" width="44.00" height="43.40" fill="#66B5FF" stroke="none" stroke-width="0" shape-rendering="crispEdges"/>
<text x="2258.60" y="332.20" font-family="'Liberation Sans', Arial, Helvetica, sans-serif" font-size="29.8" font-weight="normal" font-style="normal" text-anchor="start" fill="#000">PD</text>
</g>
<g id="blots">
<defs>
<clipPath id="wb1c"><rect x="438.7" y="780.7" width="439.6" height="144.6"/></clipPath>
<filter id="wb1f1_5" filterUnits="userSpaceOnUse" x="399" y="741" width="520" height="225"><feGaussianBlur stdDeviation="1.5"/></filter>
<filter id="wb1f3" filterUnits="userSpaceOnUse" x="399" y="741" width="520" height="225"><feGaussianBlur stdDeviation="3"/></filter>
<filter id="wb1f3_5" filterUnits="userSpaceOnUse" x="399" y="741" width="520" height="225"><feGaussianBlur stdDeviation="3.5"/></filter>
<filter id="wb1f4" filterUnits="userSpaceOnUse" x="399" y="741" width="520" height="225"><feGaussianBlur stdDeviation="4"/></filter>
<filter id="wb1f7" filterUnits="userSpaceOnUse" x="399" y="741" width="520" height="225"><feGaussianBlur stdDeviation="7"/></filter>
<filter id="wb1f8" filterUnits="userSpaceOnUse" x="399" y="741" width="520" height="225"><feGaussianBlur stdDeviation="8"/></filter>
</defs>
<g clip-path="url(#wb1c)">
<rect x="438.70" y="780.70" width="439.60" height="144.60" fill="#CBCBCB" stroke="none" stroke-width="0"/>
<ellipse cx="679.1" cy="894.2" rx="51.9" ry="16.8" fill="#8a8a8a" opacity="0.45" filter="url(#wb1f7)"/>
<ellipse cx="674.6" cy="918.6" rx="36.6" ry="9.2" fill="#dcdcdc" opacity="0.5" filter="url(#wb1f8)"/>
<polygon points="632.1,865.1 629.7,839.2 627.6,816.4 625.1,816.5 624.2,839.4 624.2,865.4" fill="#2a2a2a" stroke="#2a2a2a" stroke-width="1.2" stroke-linejoin="round" opacity="0.85" filter="url(#wb1f3)"/>
<polygon points="734.0,865.5 735.0,830.3 733.7,798.2 731.3,798.1 728.9,830.1 726.1,865.0" fill="#2a2a2a" stroke="#2a2a2a" stroke-width="1.2" stroke-linejoin="round" opacity="0.85" filter="url(#wb1f3)"/>
<path d="M636.4 867.4 Q679.1 878.4 721.8 866.8" fill="none" stroke="#000" stroke-width="20.1" stroke-linecap="round" stroke-linejoin="round" opacity="1" filter="url(#wb1f3_5)"/>
<path d="M637.9 868.3 Q679.1 877.4 720.3 867.7" fill="none" stroke="#000" stroke-width="14.0" stroke-linecap="round" stroke-linejoin="round" opacity="1" filter="url(#wb1f1_5)"/>
<path d="M767.6 863.7 Q811.8 866.8 857.6 860.7" fill="none" stroke="#909090" stroke-width="13.4" stroke-linecap="round" stroke-linejoin="round" opacity="1" filter="url(#wb1f4)"/>
<path d="M772.2 863.7 Q811.8 866.2 854.5 861.3" fill="none" stroke="#858585" stroke-width="6.7" stroke-linecap="round" stroke-linejoin="round" opacity="0.8" filter="url(#wb1f3)"/>
<path d="M856.1 862.2 Q866.7 857.6 869.2 848.5" fill="none" stroke="#999" stroke-width="6.7" stroke-linecap="round" stroke-linejoin="round" opacity="0.9" filter="url(#wb1f3_5)"/>
<ellipse cx="448.8" cy="822.5" rx="5.5" ry="5.5" fill="#bdbdbd" opacity="0.6" filter="url(#wb1f4)"/>
<ellipse cx="445.8" cy="891.2" rx="4.3" ry="5.5" fill="#c0c0c0" opacity="0.5" filter="url(#wb1f4)"/>
</g>
<rect x="438.7" y="780.7" width="439.6" height="144.6" fill="none" stroke="#000" stroke-width="1.9"/>
<defs>
<clipPath id="wb2c"><rect x="438.7" y="945" width="439.6" height="145.0"/></clipPath>
<filter id="wb2f1_5" filterUnits="userSpaceOnUse" x="399" y="905" width="520" height="225"><feGaussianBlur stdDeviation="1.5"/></filter>
<filter id="wb2f1_8" filterUnits="userSpaceOnUse" x="399" y="905" width="520" height="225"><feGaussianBlur stdDeviation="1.8"/></filter>
<filter id="wb2f4" filterUnits="userSpaceOnUse" x="399" y="905" width="520" height="225"><feGaussianBlur stdDeviation="4"/></filter>
<filter id="wb2f5" filterUnits="userSpaceOnUse" x="399" y="905" width="520" height="225"><feGaussianBlur stdDeviation="5"/></filter>
<filter id="wb2f12" filterUnits="userSpaceOnUse" x="399" y="905" width="520" height="225"><feGaussianBlur stdDeviation="12"/></filter>
<linearGradient id="wb2g" x1="0" y1="0" x2="0" y2="1"><stop offset="0" stop-color="#E3E3E3"/><stop offset="0.45" stop-color="#DEDEDE"/><stop offset="1" stop-color="#DADADA"/></linearGradient>
</defs>
<g clip-path="url(#wb2c)">
<rect x="438.70" y="945.00" width="439.60" height="145.00" fill="url(#wb2g)" stroke="none" stroke-width="0"/>
<ellipse cx="659.3" cy="1037.6" rx="219.6" ry="29.0" fill="#9a9a9a" opacity="0.42" filter="url(#wb2f12)"/>
<path d="M453.4 1043.7 Q476.3 1041.3 497.6 1038.2" fill="none" stroke="#aaa" stroke-width="7.9" stroke-linecap="round" stroke-linejoin="round" opacity="0.7" filter="url(#wb2f5)"/>
<path d="M509.2 1036.1 Q552.5 1040.0 592.8 1039.1" fill="none" stroke="#000" stroke-width="21.4" stroke-linecap="round" stroke-linejoin="round" opacity="1" filter="url(#wb2f4)"/>
<path d="M510.7 1036.1 Q552.5 1040.0 591.3 1039.1" fill="none" stroke="#000" stroke-width="15.4" stroke-linecap="round" stroke-linejoin="round" opacity="1" filter="url(#wb2f1_8)"/>
<path d="M636.4 1038.2 Q676.1 1041.3 717.3 1037.0" fill="none" stroke="#000" stroke-width="18.9" stroke-linecap="round" stroke-linejoin="round" opacity="1" filter="url(#wb2f4)"/>
<path d="M637.9 1038.2 Q676.1 1041.3 715.7 1037.0" fill="none" stroke="#000" stroke-width="13.6" stroke-linecap="round" stroke-linejoin="round" opacity="1" filter="url(#wb2f1_8)"/>
<path d="M760.6 1038.2 Q805.7 1039.1 847.8 1033.9" fill="none" stroke="#000" stroke-width="22.6" stroke-linecap="round" stroke-linejoin="round" opacity="1" filter="url(#wb2f4)"/>
<path d="M762.1 1038.2 Q805.7 1039.1 846.3 1033.9" fill="none" stroke="#000" stroke-width="16.3" stroke-linecap="round" stroke-linejoin="round" opacity="1" filter="url(#wb2f1_8)"/>
<ellipse cx="465.6" cy="1070.3" rx="4.3" ry="1.2" fill="#a8a8a8" opacity="0.55" filter="url(#wb2f1_5)"/>
<ellipse cx="522.0" cy="1070.3" rx="4.3" ry="1.2" fill="#a8a8a8" opacity="0.55" filter="url(#wb2f1_5)"/>
<ellipse cx="564.7" cy="1070.3" rx="4.3" ry="1.2" fill="#a8a8a8" opacity="0.55" filter="url(#wb2f1_5)"/>
<ellipse cx="583.0" cy="1070.3" rx="4.3" ry="1.2" fill="#a8a8a8" opacity="0.55" filter="url(#wb2f1_5)"/>
<ellipse cx="607.4" cy="1070.3" rx="4.3" ry="1.2" fill="#a8a8a8" opacity="0.55" filter="url(#wb2f1_5)"/>
<ellipse cx="631.8" cy="1070.3" rx="4.3" ry="1.2" fill="#a8a8a8" opacity="0.55" filter="url(#wb2f1_5)"/>
<ellipse cx="656.3" cy="1070.3" rx="4.3" ry="1.2" fill="#a8a8a8" opacity="0.55" filter="url(#wb2f1_5)"/>
<ellipse cx="677.6" cy="1070.3" rx="4.3" ry="1.2" fill="#a8a8a8" opacity="0.55" filter="url(#wb2f1_5)"/>
<ellipse cx="711.2" cy="1070.3" rx="4.3" ry="1.2" fill="#a8a8a8" opacity="0.55" filter="url(#wb2f1_5)"/>
<ellipse cx="760.0" cy="1070.3" rx="4.3" ry="1.2" fill="#a8a8a8" opacity="0.55" filter="url(#wb2f1_5)"/>
<ellipse cx="857.6" cy="1070.3" rx="4.3" ry="1.2" fill="#a8a8a8" opacity="0.55" filter="url(#wb2f1_5)"/>
</g>
<rect x="438.7" y="945" width="439.6" height="145.0" fill="none" stroke="#000" stroke-width="1.9"/>
<text x="403.50" y="883.50" font-family="'Liberation Sans', Arial, Helvetica, sans-serif" font-size="56.5" font-weight="normal" font-style="normal" text-anchor="end" fill="#000">iNOS</text>
<text x="415.50" y="1040.00" font-family="'Liberation Sans', Arial, Helvetica, sans-serif" font-size="58.3" font-weight="normal" font-style="normal" text-anchor="end" fill="#000">β–actin</text>
<text x="517.00" y="1153.00" font-family="'Liberation Sans', Arial, Helvetica, sans-serif" font-size="56.5" font-weight="normal" font-style="normal" text-anchor="middle" fill="#000">Con</text>
<text x="655.50" y="1153.00" font-family="'Liberation Sans', Arial, Helvetica, sans-serif" font-size="56.5" font-weight="normal" font-style="normal" text-anchor="middle" fill="#000">Pg</text>
<text x="781.50" y="1153.00" font-family="'Liberation Sans', Arial, Helvetica, sans-serif" font-size="56.5" font-weight="normal" font-style="normal" text-anchor="middle" fill="#000">CLH</text>
<defs>
<clipPath id="wb3c"><rect x="1799.7" y="2174.9" width="464.2" height="128.7"/></clipPath>
<filter id="wb3f4" filterUnits="userSpaceOnUse" x="1760" y="2135" width="544" height="209"><feGaussianBlur stdDeviation="4"/></filter>
<filter id="wb3f5" filterUnits="userSpaceOnUse" x="1760" y="2135" width="544" height="209"><feGaussianBlur stdDeviation="5"/></filter>
<filter id="wb3f6" filterUnits="userSpaceOnUse" x="1760" y="2135" width="544" height="209"><feGaussianBlur stdDeviation="6"/></filter>
<filter id="wb3f7" filterUnits="userSpaceOnUse" x="1760" y="2135" width="544" height="209"><feGaussianBlur stdDeviation="7"/></filter>
<filter id="wb3f8" filterUnits="userSpaceOnUse" x="1760" y="2135" width="544" height="209"><feGaussianBlur stdDeviation="8"/></filter>
<filter id="wb3f9" filterUnits="userSpaceOnUse" x="1760" y="2135" width="544" height="209"><feGaussianBlur stdDeviation="9"/></filter>
<filter id="wb3f14" filterUnits="userSpaceOnUse" x="1760" y="2135" width="544" height="209"><feGaussianBlur stdDeviation="14"/></filter>
<linearGradient id="wb3g" x1="0" y1="0" x2="0" y2="1"><stop offset="0" stop-color="#A6A6A6"/><stop offset="0.25" stop-color="#B4B4B4"/><stop offset="0.7" stop-color="#CECECE"/><stop offset="1" stop-color="#C6C6C6"/></linearGradient>
</defs>
<g clip-path="url(#wb3c)">
<rect x="1799.70" y="2174.90" width="464.20" height="128.70" fill="url(#wb3g)" stroke="none" stroke-width="0"/>
<ellipse cx="2197.0" cy="2230.9" rx="80.9" ry="74.7" fill="#8c8c8c" opacity="0.36" filter="url(#wb3f14)"/>
<ellipse cx="1882.7" cy="2210.7" rx="65.3" ry="6.8" fill="#e4e4e4" opacity="0.55" filter="url(#wb3f6)"/>
<ellipse cx="2035.2" cy="2207.6" rx="56.0" ry="5.6" fill="#d8d8d8" opacity="0.4" filter="url(#wb3f6)"/>
<ellipse cx="1882.7" cy="2237.1" rx="62.2" ry="22.4" fill="#626262" opacity="0.78" filter="url(#wb3f9)"/>
<ellipse cx="1888.9" cy="2242.7" rx="29.6" ry="11.8" fill="#505050" opacity="0.6" filter="url(#wb3f8)"/>
<ellipse cx="2033.6" cy="2238.7" rx="57.6" ry="23.6" fill="#626262" opacity="0.78" filter="url(#wb3f9)"/>
<ellipse cx="2033.6" cy="2244.9" rx="29.6" ry="11.8" fill="#505050" opacity="0.6" filter="url(#wb3f8)"/>
<ellipse cx="2190.7" cy="2212.2" rx="62.2" ry="21.8" fill="#505050" opacity="0.85" filter="url(#wb3f9)"/>
<ellipse cx="2248.3" cy="2207.6" rx="12.4" ry="29.6" fill="#2c2c2c" opacity="0.85" filter="url(#wb3f7)"/>
<ellipse cx="1961.1" cy="2221.6" rx="10.6" ry="71.6" fill="#ffffff" opacity="0.92" filter="url(#wb3f7)"/>
<ellipse cx="1962.0" cy="2215.3" rx="5.0" ry="34.2" fill="#ffffff" opacity="0.8" filter="url(#wb3f5)"/>
<ellipse cx="2112.3" cy="2227.8" rx="8.1" ry="71.6" fill="#ffffff" opacity="0.45" filter="url(#wb3f7)"/>
<ellipse cx="1801.8" cy="2240.2" rx="14.0" ry="80.9" fill="#ffffff" opacity="0.95" filter="url(#wb3f7)"/>
<ellipse cx="2028.9" cy="2301.8" rx="217.8" ry="3.1" fill="#e8e8e8" opacity="0.6" filter="url(#wb3f4)"/>
</g>
<rect x="1799.7" y="2174.9" width="464.2" height="128.7" fill="none" stroke="#000" stroke-width="1.9"/>
<defs>
<clipPath id="wb4c"><rect x="1799.7" y="2364.6" width="464.2" height="62.6"/></clipPath>
<filter id="wb4f3" filterUnits="userSpaceOnUse" x="1760" y="2325" width="544" height="143"><feGaussianBlur stdDeviation="3"/></filter>
<filter id="wb4f3_2" filterUnits="userSpaceOnUse" x="1760" y="2325" width="544" height="143"><feGaussianBlur stdDeviation="3.2"/></filter>
<filter id="wb4f4" filterUnits="userSpaceOnUse" x="1760" y="2325" width="544" height="143"><feGaussianBlur stdDeviation="4"/></filter>
<filter id="wb4f6" filterUnits="userSpaceOnUse" x="1760" y="2325" width="544" height="143"><feGaussianBlur stdDeviation="6"/></filter>
</defs>
<g clip-path="url(#wb4c)">
<rect x="1799.70" y="2364.60" width="464.20" height="62.60" fill="#F3F3F3" stroke="none" stroke-width="0"/>
<ellipse cx="1811.1" cy="2395.8" rx="18.7" ry="34.2" fill="#e2e2e2" opacity="0.8" filter="url(#wb4f6)"/>
<ellipse cx="2246.8" cy="2395.8" rx="18.7" ry="34.2" fill="#e6e6e6" opacity="0.7" filter="url(#wb4f6)"/>
<ellipse cx="1917.7" cy="2386.5" rx="50.6" ry="15.6" fill="#999" opacity="0.45" filter="url(#wb4f6)"/>
<path d="M1873.4 2379.6 Q1917.7 2381.8 1962.0 2379.6" fill="none" stroke="#333" stroke-width="12.4" stroke-linecap="round" stroke-linejoin="round" opacity="1" filter="url(#wb4f3_2)"/>
<path d="M1873.4 2372.5 Q1917.7 2371.6 1962.0 2372.5" fill="none" stroke="#333" stroke-width="9.3" stroke-linecap="round" stroke-linejoin="round" opacity="0.45" filter="url(#wb4f4)"/>
<path d="M1871.8 2380.3 Q1870.9 2372.5 1871.8 2366.3" fill="none" stroke="#333" stroke-width="7.5" stroke-linecap="round" stroke-linejoin="round" opacity="0.9" filter="url(#wb4f3)"/>
<ellipse cx="2042.2" cy="2386.5" rx="50.6" ry="15.6" fill="#999" opacity="0.45" filter="url(#wb4f6)"/>
<path d="M1997.8 2379.6 Q2042.2 2381.8 2086.5 2379.6" fill="none" stroke="#161616" stroke-width="15.6" stroke-linecap="round" stroke-linejoin="round" opacity="1" filter="url(#wb4f3_2)"/>
<path d="M1997.8 2372.5 Q2042.2 2371.6 2086.5 2372.5" fill="none" stroke="#161616" stroke-width="9.3" stroke-linecap="round" stroke-linejoin="round" opacity="0.45" filter="url(#wb4f4)"/>
<ellipse cx="2163.5" cy="2386.5" rx="49.0" ry="15.6" fill="#999" opacity="0.45" filter="url(#wb4f6)"/>
<path d="M2120.7 2379.6 Q2163.5 2381.8 2206.3 2379.6" fill="none" stroke="#1c1c1c" stroke-width="14.3" stroke-linecap="round" stroke-linejoin="round" opacity="1" filter="url(#wb4f3_2)"/>
<path d="M2120.7 2372.5 Q2163.5 2371.6 2206.3 2372.5" fill="none" stroke="#1c1c1c" stroke-width="9.3" stroke-linecap="round" stroke-linejoin="round" opacity="0.45" filter="url(#wb4f4)"/>
<path d="M2207.9 2380.3 Q2208.8 2372.5 2207.9 2366.3" fill="none" stroke="#1c1c1c" stroke-width="7.5" stroke-linecap="round" stroke-linejoin="round" opacity="0.9" filter="url(#wb4f3)"/>
</g>
<rect x="1799.7" y="2364.6" width="464.2" height="62.6" fill="none" stroke="#000" stroke-width="1.9"/>
<defs>
<clipPath id="wb5c"><rect x="1799.7" y="2488.2" width="464.2" height="97.9"/></clipPath>
<filter id="wb5f1_5" filterUnits="userSpaceOnUse" x="1760" y="2448" width="544" height="178"><feGaussianBlur stdDeviation="1.5"/></filter>
<filter id="wb5f2" filterUnits="userSpaceOnUse" x="1760" y="2448" width="544" height="178"><feGaussianBlur stdDeviation="2"/></filter>
<filter id="wb5f2_2" filterUnits="userSpaceOnUse" x="1760" y="2448" width="544" height="178"><feGaussianBlur stdDeviation="2.2"/></filter>
<filter id="wb5f2_5" filterUnits="userSpaceOnUse" x="1760" y="2448" width="544" height="178"><feGaussianBlur stdDeviation="2.5"/></filter>
<filter id="wb5f5" filterUnits="userSpaceOnUse" x="1760" y="2448" width="544" height="178"><feGaussianBlur stdDeviation="5"/></filter>
<filter id="wb5f7" filterUnits="userSpaceOnUse" x="1760" y="2448" width="544" height="178"><feGaussianBlur stdDeviation="7"/></filter>
<filter id="wb5f10" filterUnits="userSpaceOnUse" x="1760" y="2448" width="544" height="178"><feGaussianBlur stdDeviation="10"/></filter>
<linearGradient id="wb5g" x1="0" y1="0" x2="0" y2="1"><stop offset="0" stop-color="#A2A2A2"/><stop offset="0.6" stop-color="#9C9C9C"/><stop offset="1" stop-color="#A4A4A4"/></linearGradient>
</defs>
<g clip-path="url(#wb5c)">
<rect x="1799.70" y="2488.20" width="464.20" height="97.90" fill="url(#wb5g)" stroke="none" stroke-width="0"/>
<ellipse cx="1817.3" cy="2532.2" rx="23.3" ry="62.2" fill="#c4c4c4" opacity="0.85" filter="url(#wb5f7)"/>
<ellipse cx="2231.2" cy="2560.2" rx="49.8" ry="34.2" fill="#808080" opacity="0.5" filter="url(#wb5f10)"/>
<ellipse cx="1997.8" cy="2554.0" rx="108.9" ry="18.7" fill="#ababab" opacity="0.5" filter="url(#wb5f10)"/>
<polygon points="1882.7,2497.5 1954.2,2499.4 2028.9,2500.5 2091.1,2503.3 2091.2,2497.7 2029.0,2497.4 1954.3,2496.6 1882.7,2496.6" fill="#000" stroke="#000" stroke-width="0.5" stroke-linejoin="round" opacity="0.75" filter="url(#wb5f2_2)"/>
<polygon points="2087.9,2503.6 2153.2,2508.3 2215.5,2510.1 2265.3,2512.3 2265.6,2499.9 2215.8,2499.6 2153.6,2497.7 2088.2,2497.4" fill="#000" stroke="#000" stroke-width="3.1" stroke-linejoin="round" opacity="1" filter="url(#wb5f2_2)"/>
<ellipse cx="1960.5" cy="2498.0" rx="12.4" ry="2.8" fill="#000" opacity="0.8" filter="url(#wb5f2)"/>
<ellipse cx="2072.5" cy="2500.5" rx="10.9" ry="4.0" fill="#000" opacity="0.9" filter="url(#wb5f2)"/>
<ellipse cx="2119.2" cy="2501.7" rx="24.9" ry="5.3" fill="#000" opacity="0.9" filter="url(#wb5f2_5)"/>
<ellipse cx="1921.6" cy="2524.5" rx="9.3" ry="8.7" fill="#6a6a6a" opacity="0.7" filter="url(#wb5f5)"/>
<ellipse cx="1994.7" cy="2526.0" rx="15.6" ry="6.8" fill="#777" opacity="0.55" filter="url(#wb5f5)"/>
<ellipse cx="2038.3" cy="2526.6" rx="18.7" ry="6.2" fill="#7a7a7a" opacity="0.5" filter="url(#wb5f5)"/>
<ellipse cx="2070.9" cy="2528.5" rx="9.3" ry="9.3" fill="#5e5e5e" opacity="0.75" filter="url(#wb5f5)"/>
<ellipse cx="2134.7" cy="2521.3" rx="17.1" ry="8.7" fill="#666" opacity="0.6" filter="url(#wb5f5)"/>
<ellipse cx="2207.9" cy="2530.7" rx="10.0" ry="11.8" fill="#3a3a3a" opacity="0.85" filter="url(#wb5f5)"/>
<ellipse cx="1857.8" cy="2519.8" rx="18.7" ry="7.8" fill="#888" opacity="0.5" filter="url(#wb5f5)"/>
<path d="M1811.1 2578.9 Q1966.7 2582.6 2162.7 2582.6" fill="none" stroke="#3a3a3a" stroke-width="2.2" stroke-linecap="round" stroke-linejoin="round" opacity="0.75" filter="url(#wb5f2)"/>
<ellipse cx="1811.1" cy="2577.4" rx="5.2" ry="4.4" fill="#050505" opacity="0.95" filter="url(#wb5f2)"/>
<ellipse cx="1858.4" cy="2578.0" rx="5.2" ry="4.4" fill="#050505" opacity="0.95" filter="url(#wb5f2)"/>
<ellipse cx="1882.7" cy="2578.9" rx="5.2" ry="4.4" fill="#050505" opacity="0.95" filter="url(#wb5f2)"/>
<ellipse cx="1907.6" cy="2579.8" rx="3.7" ry="3.1" fill="#050505" opacity="0.95" filter="url(#wb5f2)"/>
<ellipse cx="1922.5" cy="2580.2" rx="3.4" ry="2.8" fill="#050505" opacity="0.95" filter="url(#wb5f2)"/>
<ellipse cx="1968.3" cy="2581.4" rx="3.7" ry="3.1" fill="#050505" opacity="0.95" filter="url(#wb5f2)"/>
<ellipse cx="2165.2" cy="2582.0" rx="6.7" ry="5.6" fill="#050505" opacity="0.95" filter="url(#wb5f2)"/>
<ellipse cx="2242.1" cy="2582.0" rx="3.0" ry="2.5" fill="#050505" opacity="0.95" filter="url(#wb5f2)"/>
<ellipse cx="2114.5" cy="2582.6" rx="3.0" ry="2.5" fill="#050505" opacity="0.95" filter="url(#wb5f2)"/>
<path d="M1800.2 2585.8 Q1873.4 2585.8 1941.8 2585.8" fill="none" stroke="#f4f4f4" stroke-width="1.9" stroke-linecap="round" stroke-linejoin="round" opacity="0.9" filter="url(#wb5f1_5)"/>
</g>
<rect x="1799.7" y="2488.2" width="464.2" height="97.9" fill="none" stroke="#000" stroke-width="1.9"/>
<defs>
<clipPath id="wb6c"><rect x="1799.7" y="2647.6" width="464.2" height="128.6"/></clipPath>
<filter id="wb6f2" filterUnits="userSpaceOnUse" x="1760" y="2608" width="544" height="209"><feGaussianBlur stdDeviation="2"/></filter>
<filter id="wb6f2_5" filterUnits="userSpaceOnUse" x="1760" y="2608" width="544" height="209"><feGaussianBlur stdDeviation="2.5"/></filter>
<filter id="wb6f4" filterUnits="userSpaceOnUse" x="1760" y="2608" width="544" height="209"><feGaussianBlur stdDeviation="4"/></filter>
<filter id="wb6f4_5" filterUnits="userSpaceOnUse" x="1760" y="2608" width="544" height="209"><feGaussianBlur stdDeviation="4.5"/></filter>
<filter id="wb6f8" filterUnits="userSpaceOnUse" x="1760" y="2608" width="544" height="209"><feGaussianBlur stdDeviation="8"/></filter>
<filter id="wb6f9" filterUnits="userSpaceOnUse" x="1760" y="2608" width="544" height="209"><feGaussianBlur stdDeviation="9"/></filter>
<linearGradient id="wb6g" x1="0" y1="0" x2="0" y2="1"><stop offset="0" stop-color="#B4B4B4"/><stop offset="0.5" stop-color="#ABABAB"/><stop offset="1" stop-color="#AEAEAE"/></linearGradient>
</defs>
<g clip-path="url(#wb6c)">
<rect x="1799.70" y="2647.60" width="464.20" height="128.60" fill="url(#wb6g)" stroke="none" stroke-width="0"/>
<ellipse cx="1817.3" cy="2687.8" rx="21.8" ry="46.7" fill="#c0c0c0" opacity="0.7" filter="url(#wb6f8)"/>
<ellipse cx="1895.1" cy="2709.6" rx="66.9" ry="37.3" fill="#5a5a5a" opacity="0.6" filter="url(#wb6f9)"/>
<ellipse cx="2039.8" cy="2709.6" rx="66.9" ry="37.3" fill="#5a5a5a" opacity="0.6" filter="url(#wb6f9)"/>
<ellipse cx="2181.4" cy="2709.6" rx="66.9" ry="37.3" fill="#5a5a5a" opacity="0.6" filter="url(#wb6f9)"/>
<path d="M1846.9 2692.5 Q1895.1 2687.8 1944.9 2685.3" fill="none" stroke="#000" stroke-width="24.9" stroke-linecap="round" stroke-linejoin="round" opacity="1" filter="url(#wb6f4_5)"/>
<path d="M1846.9 2692.5 Q1895.1 2687.8 1944.9 2685.3" fill="none" stroke="#000" stroke-width="18.7" stroke-linecap="round" stroke-linejoin="round" opacity="1" filter="url(#wb6f2)"/>
<path d="M1990.0 2687.8 Q2038.3 2689.4 2088.1 2685.3" fill="none" stroke="#000" stroke-width="26.8" stroke-linecap="round" stroke-linejoin="round" opacity="1" filter="url(#wb6f4_5)"/>
<path d="M1990.0 2687.8 Q2038.3 2689.4 2088.1 2685.3" fill="none" stroke="#000" stroke-width="20.1" stroke-linecap="round" stroke-linejoin="round" opacity="1" filter="url(#wb6f2)"/>
<path d="M2130.1 2684.7 Q2181.4 2684.1 2231.2 2686.0" fill="none" stroke="#000" stroke-width="25.5" stroke-linecap="round" stroke-linejoin="round" opacity="1" filter="url(#wb6f4_5)"/>
<path d="M2130.1 2684.7 Q2181.4 2684.1 2231.2 2686.0" fill="none" stroke="#000" stroke-width="19.1" stroke-linecap="round" stroke-linejoin="round" opacity="1" filter="url(#wb6f2)"/>
<ellipse cx="2077.2" cy="2698.7" rx="14.9" ry="10.0" fill="#000" opacity="1" filter="url(#wb6f4)"/>
<path d="M1843.8 2735.1 Q1895.1 2732.0 1941.8 2728.9" fill="none" stroke="#0a0a0a" stroke-width="10.0" stroke-linecap="round" stroke-linejoin="round" opacity="0.95" filter="url(#wb6f4)"/>
<path d="M1843.8 2735.1 Q1895.1 2732.0 1941.8 2728.9" fill="none" stroke="#000" stroke-width="5.0" stroke-linecap="round" stroke-linejoin="round" opacity="0.9" filter="url(#wb6f2_5)"/>
<path d="M1989.1 2728.3 Q2038.3 2730.8 2089.6 2730.1" fill="none" stroke="#0a0a0a" stroke-width="11.2" stroke-linecap="round" stroke-linejoin="round" opacity="0.95" filter="url(#wb6f4)"/>
<path d="M1989.1 2728.3 Q2038.3 2730.8 2089.6 2730.1" fill="none" stroke="#000" stroke-width="5.6" stroke-linecap="round" stroke-linejoin="round" opacity="0.9" filter="url(#wb6f2_5)"/>
<path d="M2128.5 2728.9 Q2181.4 2730.8 2237.4 2730.1" fill="none" stroke="#0a0a0a" stroke-width="10.6" stroke-linecap="round" stroke-linejoin="round" opacity="0.95" filter="url(#wb6f4)"/>
<path d="M2128.5 2728.9 Q2181.4 2730.8 2237.4 2730.1" fill="none" stroke="#000" stroke-width="5.3" stroke-linecap="round" stroke-linejoin="round" opacity="0.9" filter="url(#wb6f2_5)"/>
</g>
<rect x="1799.7" y="2647.6" width="464.2" height="128.6" fill="none" stroke="#000" stroke-width="1.9"/>
<defs>
<clipPath id="wb7c"><rect x="1808.3" y="2837.8" width="464.2" height="96.9"/></clipPath>
<filter id="wb7f1_5" filterUnits="userSpaceOnUse" x="1768" y="2798" width="544" height="177"><feGaussianBlur stdDeviation="1.5"/></filter>
<filter id="wb7f3_5" filterUnits="userSpaceOnUse" x="1768" y="2798" width="544" height="177"><feGaussianBlur stdDeviation="3.5"/></filter>
<filter id="wb7f6" filterUnits="userSpaceOnUse" x="1768" y="2798" width="544" height="177"><feGaussianBlur stdDeviation="6"/></filter>
</defs>
<g clip-path="url(#wb7c)">
<rect x="1808.30" y="2837.80" width="464.20" height="96.90" fill="#EAEAEA" stroke="none" stroke-width="0"/>
<rect x="1808.6" y="2838.0" width="463.6" height="27.4" fill="#E2E2E2" opacity="1"/>
<rect x="1808.6" y="2927.0" width="463.6" height="7.5" fill="#fafafa" opacity="1" filter="url(#wb7f1_5)"/>
<ellipse cx="1915.4" cy="2883.1" rx="49.8" ry="14.0" fill="#b0b0b0" opacity="0.6" filter="url(#wb7f6)"/>
<path d="M1868.7 2893.4 Q1915.4 2894.9 1962.0 2892.8" fill="none" stroke="#6c6c6c" stroke-width="8.7" stroke-linecap="round" stroke-linejoin="round" opacity="1" filter="url(#wb7f3_5)"/>
<path d="M1864.9 2891.5 Q1863.1 2881.6 1863.7 2870.7" fill="none" stroke="#888" stroke-width="5.6" stroke-linecap="round" stroke-linejoin="round" opacity="0.9" filter="url(#wb7f3_5)"/>
<ellipse cx="2048.4" cy="2883.1" rx="49.0" ry="14.0" fill="#b0b0b0" opacity="0.6" filter="url(#wb7f6)"/>
<path d="M2002.5 2891.5 Q2048.4 2892.3 2094.3 2889.3" fill="none" stroke="#383838" stroke-width="10.6" stroke-linecap="round" stroke-linejoin="round" opacity="1" filter="url(#wb7f3_5)"/>
<ellipse cx="2179.1" cy="2883.1" rx="47.5" ry="14.0" fill="#b0b0b0" opacity="0.6" filter="url(#wb7f6)"/>
<path d="M2134.7 2890.3 Q2179.1 2890.9 2223.4 2887.8" fill="none" stroke="#4c4c4c" stroke-width="9.3" stroke-linecap="round" stroke-linejoin="round" opacity="1" filter="url(#wb7f3_5)"/>
<path d="M2225.9 2887.2 Q2227.1 2880.0 2226.5 2870.7" fill="none" stroke="#666" stroke-width="5.6" stroke-linecap="round" stroke-linejoin="round" opacity="0.9" filter="url(#wb7f3_5)"/>
</g>
<rect x="1808.3" y="2837.8" width="464.2" height="96.9" fill="none" stroke="#000" stroke-width="1.9"/>
<defs>
<clipPath id="wb8c"><rect x="1809.8" y="2995.7" width="463.2" height="106.5"/></clipPath>
<filter id="wb8f3" filterUnits="userSpaceOnUse" x="1770" y="2956" width="543" height="186"><feGaussianBlur stdDeviation="3"/></filter>
<filter id="wb8f3_5" filterUnits="userSpaceOnUse" x="1770" y="2956" width="543" height="186"><feGaussianBlur stdDeviation="3.5"/></filter>
<filter id="wb8f12" filterUnits="userSpaceOnUse" x="1770" y="2956" width="543" height="186"><feGaussianBlur stdDeviation="12"/></filter>
<linearGradient id="wb8g" x1="0" y1="0" x2="0" y2="1"><stop offset="0" stop-color="#DADADA"/><stop offset="0.5" stop-color="#D4D4D4"/><stop offset="1" stop-color="#D8D8D8"/></linearGradient>
</defs>
<g clip-path="url(#wb8c)">
<rect x="1809.80" y="2995.70" width="463.20" height="106.50" fill="url(#wb8g)" stroke="none" stroke-width="0"/>
<ellipse cx="2028.9" cy="3071.4" rx="217.8" ry="28.0" fill="#a8a8a8" opacity="0.35" filter="url(#wb8f12)"/>
<polygon points="1846.9,3087.9 1873.7,3086.0 1911.0,3080.4 1949.8,3077.3 1949.4,3069.2 1910.3,3069.8 1873.0,3070.5 1846.9,3068.6" fill="#000" stroke="#000" stroke-width="4.0" stroke-linejoin="round" opacity="1" filter="url(#wb8f3_5)"/>
<ellipse cx="1853.1" cy="3078.2" rx="12.4" ry="10.0" fill="#000" opacity="1" filter="url(#wb8f3_5)"/>
<polygon points="1998.1,3079.5 2029.5,3077.9 2062.0,3075.2 2095.5,3064.7 2089.9,3048.2 2058.1,3060.1 2028.4,3068.6 1997.6,3070.8" fill="#000" stroke="#000" stroke-width="4.4" stroke-linejoin="round" opacity="1" filter="url(#wb8f3_5)"/>
<ellipse cx="2004.7" cy="3075.1" rx="7.5" ry="6.2" fill="#000" opacity="1" filter="url(#wb8f3_5)"/>
<path d="M1974.5 3057.4 Q1982.3 3068.3 1994.7 3074.5" fill="none" stroke="#999" stroke-width="2.5" stroke-linecap="round" stroke-linejoin="round" opacity="0.6" filter="url(#wb8f3)"/>
<polygon points="2122.6,3070.1 2154.0,3069.5 2191.4,3067.6 2228.6,3070.4 2227.5,3044.3 2190.1,3050.2 2152.8,3055.8 2121.9,3058.9" fill="#000" stroke="#000" stroke-width="5.6" stroke-linejoin="round" opacity="1" filter="url(#wb8f3_5)"/>
<ellipse cx="2217.2" cy="3058.3" rx="15.6" ry="13.1" fill="#000" opacity="1" filter="url(#wb8f3_5)"/>
</g>
<rect x="1809.8" y="2995.7" width="463.2" height="106.5" fill="none" stroke="#000" stroke-width="1.9"/>
<text x="1767.00" y="2268.30" font-family="'Liberation Sans', Arial, Helvetica, sans-serif" font-size="56.5" font-weight="normal" font-style="normal" text-anchor="end" fill="#000">IRF8</text>
<text x="1782.00" y="2416.10" font-family="'Liberation Sans', Arial, Helvetica, sans-serif" font-size="55.5" font-weight="normal" font-style="normal" text-anchor="end" fill="#000">STAT1</text>
<text x="1783.50" y="2558.90" font-family="'Liberation Sans', Arial, Helvetica, sans-serif" font-size="55.5" font-weight="normal" font-style="normal" text-anchor="end" fill="#000">SOCS1</text>
<text x="1766.00" y="2730.80" font-family="'Liberation Sans', Arial, Helvetica, sans-serif" font-size="56.5" font-weight="normal" font-style="normal" text-anchor="end" fill="#000">IL–1β</text>
<text x="1782.50" y="2903.90" font-family="'Liberation Sans', Arial, Helvetica, sans-serif" font-size="55.5" font-weight="normal" font-style="normal" text-anchor="end" fill="#000">STAT2</text>
<text x="1793.50" y="3068.90" font-family="'Liberation Sans', Arial, Helvetica, sans-serif" font-size="57" font-weight="normal" font-style="normal" text-anchor="end" fill="#000">β–actin</text>
<text x="1888.00" y="3172.30" font-family="'Liberation Sans', Arial, Helvetica, sans-serif" font-size="56.5" font-weight="normal" font-style="normal" text-anchor="middle" fill="#000">Con</text>
<text x="2023.50" y="3172.30" font-family="'Liberation Sans', Arial, Helvetica, sans-serif" font-size="56.5" font-weight="normal" font-style="normal" text-anchor="middle" fill="#000">Pg</text>
<text x="2179.50" y="3172.30" font-family="'Liberation Sans', Arial, Helvetica, sans-serif" font-size="56.5" font-weight="normal" font-style="normal" text-anchor="middle" fill="#000">CLH</text>
</g>
</svg>
</body>
</html>
